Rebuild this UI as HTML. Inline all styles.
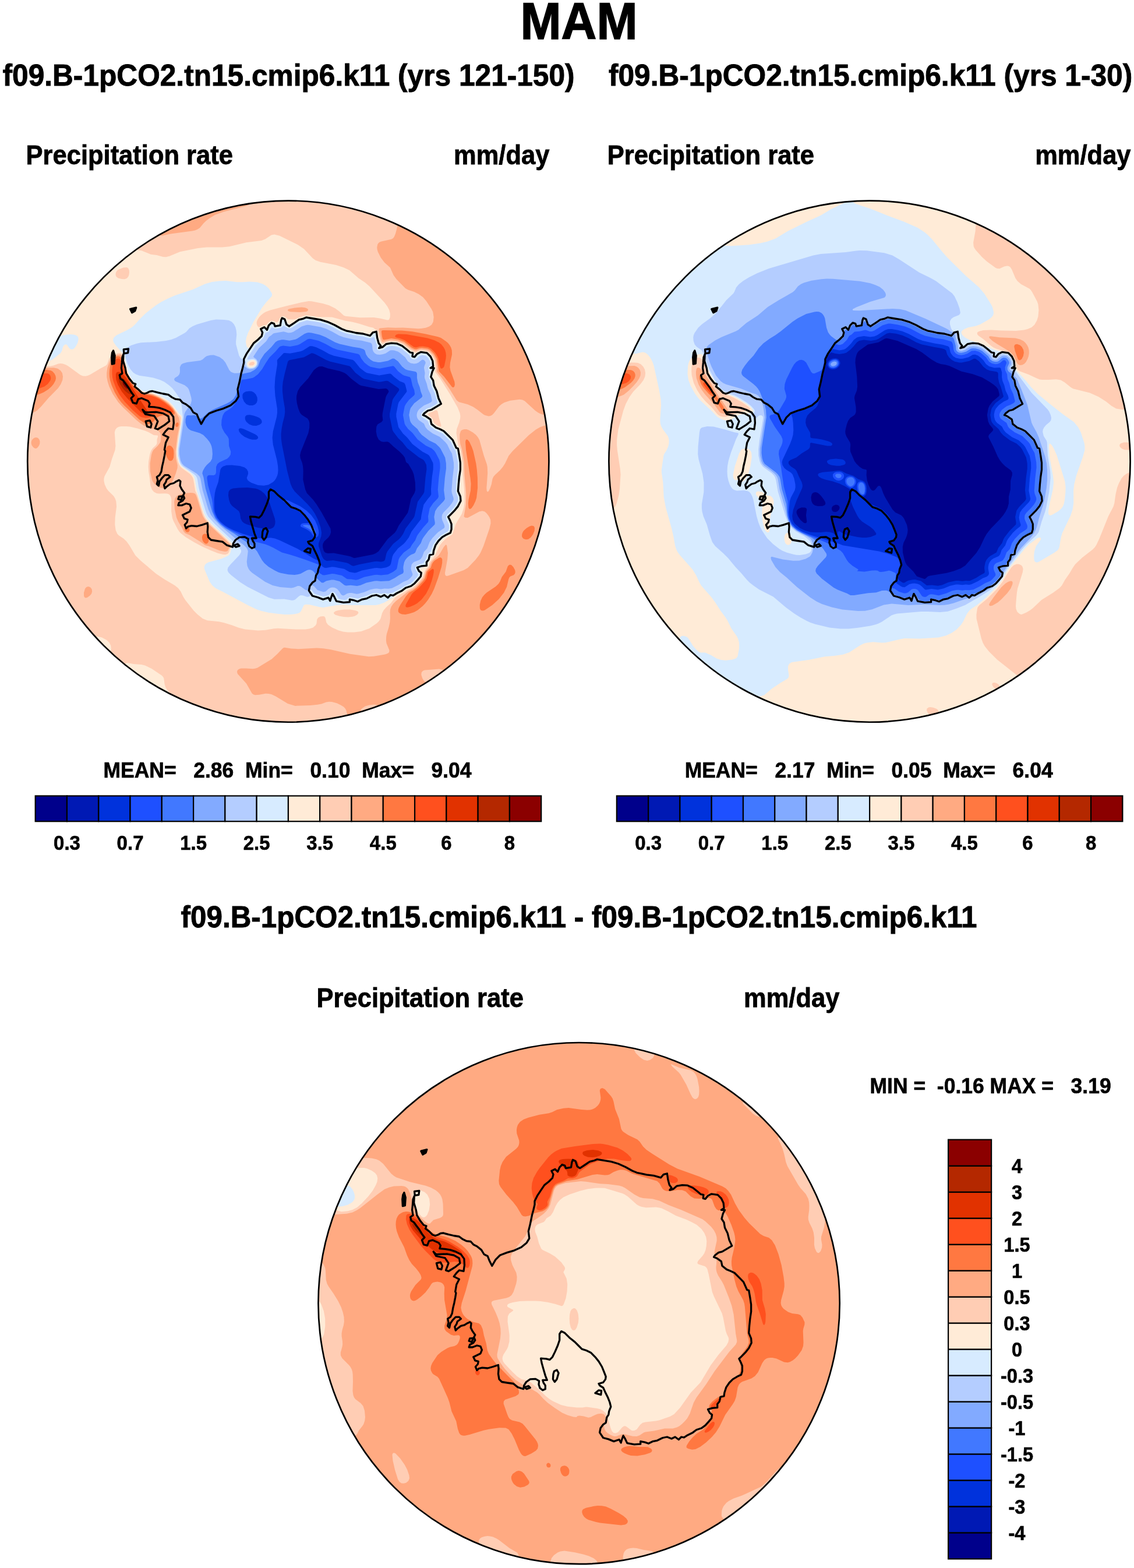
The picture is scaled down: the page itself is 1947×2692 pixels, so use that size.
<!DOCTYPE html>
<html lang="en"><head><meta charset="utf-8"><title>MAM Precipitation rate</title>
<style>html,body{margin:0;padding:0;background:#fff}svg{display:block}text{white-space:pre;font-family:"Liberation Sans",Arial,Helvetica,sans-serif;font-weight:bold;fill:#000}</style></head><body>
<svg width="1947" height="2692" viewBox="0 0 1947 2692">
<rect width="1947" height="2692" fill="#fff"/>
<text transform="translate(994.00 66.90) scale(1 1.055)" font-size="84.20" text-anchor="middle" stroke="#000" stroke-width="1.52" xml:space="preserve">MAM</text>
<text transform="translate(4.50 147.00) scale(1 1.055)" font-size="49.65" text-anchor="start" stroke="#000" stroke-width="0.89" xml:space="preserve">f09.B-1pCO2.tn15.cmip6.k11 (yrs 121-150)</text>
<text transform="translate(1944.20 147.00) scale(1 1.055)" font-size="49.65" text-anchor="end" stroke="#000" stroke-width="0.89" xml:space="preserve">f09.B-1pCO2.tn15.cmip6.k11 (yrs 1-30)</text>
<text transform="translate(44.60 281.80) scale(1 1.055)" font-size="43.50" text-anchor="start" stroke="#000" stroke-width="0.78" xml:space="preserve">Precipitation rate</text>
<text transform="translate(943.40 281.80) scale(1 1.055)" font-size="43.50" text-anchor="end" stroke="#000" stroke-width="0.78" xml:space="preserve">mm/day</text>
<text transform="translate(1042.75 281.80) scale(1 1.055)" font-size="43.50" text-anchor="start" stroke="#000" stroke-width="0.78" xml:space="preserve">Precipitation rate</text>
<text transform="translate(1941.55 281.80) scale(1 1.055)" font-size="43.50" text-anchor="end" stroke="#000" stroke-width="0.78" xml:space="preserve">mm/day</text>
<text transform="translate(994.05 1592.20) scale(1 1.055)" font-size="49.40" text-anchor="middle" stroke="#000" stroke-width="0.89" xml:space="preserve">f09.B-1pCO2.tn15.cmip6.k11 - f09.B-1pCO2.tn15.cmip6.k11</text>
<text transform="translate(543.60 1729.30) scale(1 1.055)" font-size="43.50" text-anchor="start" stroke="#000" stroke-width="0.78" xml:space="preserve">Precipitation rate</text>
<text transform="translate(1441.40 1729.30) scale(1 1.055)" font-size="43.50" text-anchor="end" stroke="#000" stroke-width="0.78" xml:space="preserve">mm/day</text>
<defs><clipPath id="clip0"><circle cx="494.85" cy="792.15" r="447.6"/></clipPath><clipPath id="clip1"><circle cx="1493.00" cy="792.15" r="447.6"/></clipPath><clipPath id="clip2"><circle cx="994.10" cy="2237.60" r="447.6"/></clipPath></defs>
<g clip-path="url(#clip0)"><circle cx="494.85" cy="792.15" r="449.6" fill="#00008b"/>
<path fill-rule="evenodd" d="M36.0,333.5 955.0,333.5 955.0,1252.5 36.0,1252.5ZM548.0,629.3 544.0,631.3 538.7,635.5 529.2,649.5 515.4,664.5 511.2,671.5 509.2,679.5 509.0,685.5 509.9,692.5 511.9,700.5 514.6,707.5 516.4,710.5 518.5,712.5 528.0,718.6 530.5,722.5 531.4,726.5 531.2,734.5 529.4,743.5 516.5,775.5 515.1,781.5 515.7,786.5 518.8,794.5 520.1,800.5 520.7,808.5 520.3,823.5 524.2,840.5 527.0,846.8 537.2,857.5 543.2,865.5 552.0,879.5 567.5,907.5 568.2,913.5 566.7,918.5 564.0,922.6 556.6,929.5 554.5,933.5 554.0,936.5 554.4,940.5 555.8,945.5 557.1,947.5 559.0,948.9 563.0,950.0 573.0,949.6 598.2,954.5 602.0,955.4 607.0,957.7 609.0,958.1 640.0,952.0 645.0,950.0 650.0,946.5 665.5,925.5 677.9,914.5 680.7,910.5 684.5,902.5 700.0,880.5 701.5,875.5 705.6,856.5 711.6,846.5 713.2,841.5 712.9,828.5 710.4,814.5 708.1,808.5 702.0,797.9 701.0,796.3 698.0,794.2 697.0,792.7 694.9,785.5 692.0,781.5 686.2,775.5 675.4,766.5 668.0,759.4 665.0,758.2 658.0,758.8 654.0,757.8 650.0,754.4 647.1,748.5 645.7,740.5 646.3,732.5 648.3,728.5 655.1,724.5 657.3,721.5 656.5,713.5 656.8,709.5 662.2,682.5 663.3,679.5 667.5,672.5 666.4,669.5 664.0,667.6 662.0,666.9 650.0,668.1 620.0,662.1 616.7,660.5 603.4,650.5 594.9,642.5 591.0,639.9 583.0,637.1 563.0,632.6 553.0,629.1Z" fill="#0019b4"/>
<path fill-rule="evenodd" d="M36.0,333.5 955.0,333.5 955.0,1252.5 36.0,1252.5ZM410.0,837.5 400.0,838.4 396.0,840.1 394.0,841.8 392.5,844.5 392.0,850.5 393.3,858.5 395.4,864.5 398.5,868.5 410.1,877.5 411.9,881.5 413.2,890.5 416.0,895.4 419.0,897.9 423.0,899.9 442.0,905.7 460.0,908.5 465.0,907.8 469.0,905.7 471.0,903.2 472.3,899.5 472.6,895.5 471.9,890.5 462.2,861.5 458.3,853.5 454.0,847.6 448.0,842.5 443.0,840.0 439.0,838.7 425.0,837.0ZM535.0,606.3 522.0,613.3 497.0,618.3 495.0,619.4 494.0,621.5 488.8,641.5 485.8,655.5 484.9,664.5 485.0,672.5 486.3,684.5 489.0,700.5 489.3,707.5 488.4,714.5 485.1,727.5 483.5,736.5 482.6,745.5 482.8,753.5 484.0,762.5 492.9,807.5 498.8,830.5 501.8,837.5 505.8,843.5 528.0,865.5 535.8,874.5 540.5,881.5 545.6,891.5 550.5,905.5 552.1,914.5 551.5,920.5 547.1,932.5 547.0,937.5 552.6,954.5 555.0,959.1 557.0,961.1 561.0,963.1 572.0,961.9 594.0,966.0 598.0,967.3 604.0,971.1 607.0,971.8 617.0,969.1 643.0,964.0 647.0,963.8 654.0,964.6 658.0,963.8 660.0,962.5 661.0,961.0 663.4,950.5 665.2,946.5 675.0,933.7 685.0,925.7 688.0,922.5 692.2,916.5 696.3,907.5 709.8,889.5 711.5,886.5 717.1,861.5 727.1,847.5 728.4,844.5 730.4,820.5 732.5,805.5 732.0,798.1 729.0,792.1 727.0,789.6 719.0,784.9 699.1,769.5 691.0,759.2 683.9,752.5 675.5,741.5 673.9,738.5 669.1,715.5 669.0,710.5 674.0,686.5 675.6,683.5 685.0,670.5 685.4,668.5 684.2,666.5 666.0,653.9 663.0,653.8 654.0,655.5 650.0,655.7 625.0,650.6 621.3,648.5 610.0,639.8 602.0,630.0 600.0,628.4 567.0,620.8 560.0,618.0 542.2,608.5 538.0,606.7Z" fill="#0032dc"/>
<path fill-rule="evenodd" d="M36.0,333.5 955.0,333.5 955.0,1252.5 36.0,1252.5ZM412.0,735.3 410.1,736.5 409.7,737.5 410.8,741.5 414.1,745.5 420.0,749.9 428.0,753.5 433.0,754.8 439.0,754.8 441.0,754.2 442.9,752.5 443.2,751.5 442.7,749.5 440.9,747.5 437.9,745.5 419.0,736.7 415.0,735.4ZM428.0,671.5 422.0,672.3 418.2,674.5 416.8,676.5 416.3,678.5 416.5,683.5 419.0,689.5 423.0,693.9 428.0,696.0 434.0,696.0 438.0,694.3 440.6,691.5 441.9,687.5 441.7,682.5 439.5,677.5 436.0,673.7 432.0,671.8ZM532.0,594.3 520.0,601.7 516.0,603.3 498.0,606.8 489.0,605.9 487.0,606.3 477.1,616.5 475.8,618.5 476.1,625.5 472.5,648.5 471.5,664.5 472.5,679.5 475.9,701.5 476.0,708.5 475.1,715.5 468.8,740.5 467.6,751.5 468.8,763.5 475.4,789.5 477.2,800.5 477.5,807.5 477.1,812.5 476.1,816.5 474.0,821.3 471.8,824.5 469.0,827.4 461.0,832.2 453.0,833.8 443.0,832.9 432.0,829.0 427.7,826.5 425.0,824.1 423.7,820.5 426.1,813.5 425.8,809.5 423.7,805.5 419.9,802.5 412.0,799.9 398.0,798.5 389.0,798.8 383.0,800.7 380.0,803.3 378.3,806.5 374.8,827.5 370.5,839.5 368.9,846.5 367.7,857.5 368.0,872.5 368.6,877.5 370.0,882.3 373.0,888.7 379.0,896.2 386.6,902.5 393.2,906.5 402.0,910.7 417.0,916.4 440.0,923.6 447.0,924.3 465.0,923.3 472.0,924.6 480.0,927.4 511.0,942.2 522.0,948.4 537.5,958.5 546.0,962.4 548.0,964.5 552.0,971.1 554.0,973.0 557.0,974.7 560.0,974.9 570.0,973.2 574.0,973.4 591.0,976.8 600.0,981.9 609.0,983.6 612.0,983.1 621.0,979.6 643.0,975.3 647.0,975.0 654.0,975.8 663.0,974.3 668.0,971.9 670.0,970.2 671.2,967.5 673.7,955.5 675.5,951.5 683.3,941.5 693.3,933.5 696.0,930.6 702.0,922.5 706.6,912.5 722.6,891.5 723.7,883.5 727.4,866.5 734.0,857.2 739.0,851.3 740.3,848.5 740.0,839.5 741.7,819.5 743.7,805.5 743.8,797.5 743.3,794.5 738.0,784.1 736.2,781.5 734.0,779.9 725.4,775.5 708.2,762.5 699.0,751.1 692.0,744.6 684.2,733.5 680.4,715.5 680.3,710.5 683.4,694.5 684.7,690.5 698.4,672.5 698.3,670.5 695.8,660.5 694.1,657.5 686.0,654.2 676.0,646.6 672.0,642.6 670.0,641.6 667.0,641.7 651.0,644.5 630.0,640.3 626.8,638.5 618.0,631.7 609.0,620.4 606.0,618.1 573.0,610.8 565.0,607.7 554.0,601.5 543.0,596.3 536.0,594.2ZM425.0,712.4 423.0,713.1 421.5,714.5 420.7,716.5 420.8,719.5 421.9,722.5 423.3,724.5 428.0,728.4 434.0,730.7 440.0,730.9 446.0,729.0 449.0,726.5 449.7,724.5 449.1,721.5 447.7,719.5 445.0,717.3 441.0,715.4 435.0,713.4 429.0,712.3ZM486.6,858.5 488.0,857.9 490.0,857.9 495.0,859.2 516.0,869.5 526.1,876.5 534.0,883.9 541.0,893.6 545.3,903.5 547.0,910.5 547.4,915.5 546.5,919.5 545.0,921.5 542.0,922.7 540.0,922.3 538.0,920.6 534.0,914.5 530.7,911.5 526.0,908.5 516.8,904.5 516.1,903.5 515.9,901.5 518.0,899.1 521.0,898.2 529.0,898.0 530.2,897.5 530.0,895.5 528.3,892.5 524.0,887.4 513.0,877.7 488.0,862.1 486.5,860.5Z" fill="#1e50ff"/>
<path fill-rule="evenodd" d="M36.0,333.5 955.0,333.5 955.0,1252.5 36.0,1252.5ZM528.0,582.4 515.0,590.8 511.0,592.5 498.0,595.0 486.0,593.5 481.0,594.7 479.0,596.4 473.0,603.6 462.8,613.5 456.1,623.5 450.2,633.5 443.0,642.4 437.0,647.0 434.0,648.7 422.0,651.2 416.0,651.8 414.0,654.1 413.0,657.5 409.9,677.5 406.5,687.5 402.3,694.5 399.0,698.5 394.2,702.5 387.3,706.5 385.0,708.8 382.4,713.5 380.5,721.5 380.1,729.5 381.6,735.5 385.4,742.5 391.0,749.5 392.8,753.5 393.1,765.5 396.3,775.5 395.8,780.5 393.3,784.5 390.1,787.5 377.0,793.4 373.3,796.5 371.1,801.5 370.9,811.5 369.8,814.5 367.0,816.0 359.0,815.7 357.0,816.5 355.6,818.5 355.5,821.5 357.3,833.5 364.0,857.6 365.0,863.8 365.7,874.5 367.2,880.5 370.7,888.5 375.9,895.5 382.0,901.3 391.0,907.5 402.0,913.2 438.0,929.9 455.0,934.2 461.0,936.4 469.0,940.2 484.0,948.6 497.0,952.0 509.0,955.8 526.0,961.5 545.0,968.6 546.3,969.5 547.3,971.5 546.6,978.5 547.2,981.5 549.0,983.9 554.0,987.2 557.0,987.4 570.0,985.0 574.0,985.2 587.0,988.0 595.0,993.5 597.0,994.3 603.0,994.4 611.0,995.7 615.0,995.0 625.0,990.7 643.0,987.1 647.0,986.8 654.0,987.6 666.0,986.3 675.0,981.8 680.6,977.5 681.5,975.5 684.5,960.5 686.5,956.5 693.0,948.7 704.3,940.5 707.1,935.5 713.0,927.5 715.8,920.5 717.6,917.5 726.7,905.5 735.0,896.2 735.5,893.5 735.0,886.5 737.8,872.5 744.0,863.6 751.7,855.5 753.0,852.5 751.7,840.5 753.4,820.5 755.6,803.5 755.5,795.5 754.3,789.5 748.0,777.2 745.3,773.5 741.0,769.8 731.0,765.0 717.0,754.4 708.0,743.1 700.7,736.5 696.2,730.5 694.7,727.5 691.9,712.5 694.8,697.5 696.9,693.5 702.2,686.5 711.0,678.7 712.2,676.5 711.2,669.5 708.3,662.5 705.6,650.5 704.0,647.6 694.0,644.7 691.0,643.2 683.6,637.5 677.0,629.5 675.0,628.3 652.0,632.7 648.0,632.3 636.0,629.8 632.0,627.6 625.6,622.5 620.2,615.5 617.4,609.5 615.0,607.8 579.0,600.3 571.0,597.2 558.9,590.5 547.0,585.0 534.0,581.9 531.0,581.7ZM520.7,901.5 527.0,901.0 533.0,902.2 536.0,903.5 539.0,906.5 541.2,910.5 542.4,914.5 542.0,918.0 541.0,918.5 540.0,918.0 536.7,913.5 533.0,909.8 529.0,907.0 521.6,903.5 520.2,902.5Z" fill="#4178ff"/>
<path fill-rule="evenodd" d="M36.0,333.5 955.0,333.5 955.0,1252.5 36.0,1252.5ZM527.0,571.4 523.0,573.0 510.0,581.5 507.0,582.8 497.0,584.7 487.0,583.2 484.0,583.2 477.0,584.7 473.0,587.2 466.0,595.7 454.0,607.5 446.8,618.5 443.4,628.5 440.0,632.6 437.0,635.0 430.0,638.9 418.0,641.4 416.0,642.3 414.0,644.2 411.4,650.5 407.0,671.6 405.0,678.5 401.1,684.5 396.0,688.9 389.9,692.5 365.0,703.5 355.8,709.5 348.0,717.0 346.0,718.2 344.0,718.5 342.0,718.0 337.0,714.0 334.0,712.8 328.0,713.2 323.0,712.9 321.0,713.5 320.0,714.5 318.6,719.5 318.5,725.5 319.8,730.5 322.1,734.5 325.0,737.3 328.0,739.0 343.0,743.5 349.0,746.8 355.6,753.5 359.6,758.5 361.8,762.5 363.3,766.5 364.3,771.5 364.9,779.5 364.1,787.5 361.3,792.5 355.0,798.3 351.6,802.5 348.3,808.5 347.3,812.5 349.5,819.5 352.8,838.5 364.3,878.5 369.3,889.5 373.1,894.5 379.0,900.6 387.0,906.9 402.8,916.5 414.0,924.7 427.0,933.0 434.0,938.2 441.3,946.5 449.7,961.5 454.0,967.0 461.0,973.0 471.0,979.0 478.0,982.5 482.0,983.8 495.0,986.2 506.0,986.9 512.0,986.1 516.0,984.9 527.0,978.9 530.0,978.2 533.0,978.3 536.2,979.5 539.6,982.5 541.4,985.5 543.6,992.5 552.0,1000.3 555.0,1000.6 560.0,997.6 563.0,996.7 569.2,995.5 573.0,995.5 583.0,997.9 591.2,1004.5 594.0,1005.5 602.0,1004.8 613.0,1006.1 619.0,1004.8 629.0,1000.4 643.0,997.5 647.0,997.3 654.0,998.0 668.0,997.2 678.0,992.3 685.0,987.8 692.0,984.3 693.0,981.5 692.3,975.5 692.5,972.5 694.0,965.3 695.8,961.5 699.0,957.5 702.5,954.5 706.0,952.2 711.0,950.2 713.0,948.6 716.0,941.2 722.6,932.5 725.0,925.9 727.0,922.4 735.3,911.5 746.4,900.5 746.8,897.5 745.3,887.5 747.2,877.5 751.0,871.6 762.0,860.1 764.0,856.5 762.1,841.5 763.8,820.5 766.0,804.5 765.9,795.5 764.2,785.5 756.5,770.5 754.2,767.5 747.9,761.5 737.0,756.3 724.0,746.6 720.0,741.8 716.7,736.5 708.0,728.9 705.5,725.5 704.1,722.5 702.3,712.5 703.7,704.5 705.0,700.5 711.0,692.4 723.9,682.5 725.2,680.5 724.9,678.5 722.5,672.5 720.6,664.5 717.4,656.5 715.9,648.5 716.0,641.5 715.0,639.0 713.0,638.0 700.0,635.6 696.0,633.9 690.5,629.5 683.5,620.5 677.0,615.7 674.0,615.4 666.0,619.4 653.0,622.1 649.0,622.1 641.0,620.4 636.0,617.6 631.7,613.5 628.4,608.5 626.4,601.5 624.0,599.4 618.0,597.6 605.3,595.5 583.0,590.6 575.0,587.4 559.0,578.7 549.0,574.7 535.0,571.6 530.0,571.0Z" fill="#82aaff"/>
<path fill-rule="evenodd" d="M36.0,333.5 955.0,333.5 955.0,1252.5 36.0,1252.5ZM525.0,558.3 517.9,560.5 504.0,569.5 500.0,571.1 495.0,571.4 487.0,569.3 471.0,571.9 469.0,572.8 466.0,575.6 461.7,578.5 457.0,585.9 444.7,597.5 435.5,611.5 435.2,612.5 435.7,613.5 440.0,616.6 442.5,620.5 442.4,625.5 440.1,629.5 438.0,631.4 435.0,632.9 429.0,633.8 425.0,632.7 420.0,628.9 419.0,628.9 417.0,631.2 413.5,638.5 411.0,640.5 403.0,640.7 400.0,640.1 396.6,638.5 393.7,635.5 387.1,622.5 383.1,617.5 377.0,613.0 367.0,609.6 361.0,609.7 355.0,611.3 352.0,613.2 348.0,616.9 344.0,618.9 321.0,622.1 314.0,624.0 311.0,626.1 308.9,630.5 309.0,638.5 308.0,642.5 305.6,645.5 300.0,649.1 299.0,651.6 300.0,653.5 302.0,655.0 317.0,661.2 322.0,665.2 324.0,668.3 325.2,671.5 328.3,682.5 329.0,687.5 327.5,693.5 318.0,707.2 316.4,711.5 314.5,728.5 308.0,771.1 308.0,779.5 310.0,790.4 312.3,795.5 316.0,799.5 338.0,813.2 342.3,817.5 344.2,821.5 347.9,841.5 357.7,874.5 362.0,884.1 368.6,892.5 378.0,902.3 409.0,928.6 419.0,936.2 423.0,940.3 425.0,943.5 425.8,946.5 423.7,964.5 424.6,971.5 426.7,976.5 429.0,979.7 433.0,983.5 455.0,998.7 468.0,1005.1 481.0,1007.9 500.0,1009.4 504.0,1008.7 511.0,1006.0 514.0,1006.0 517.0,1007.3 524.0,1012.4 527.0,1013.6 529.0,1012.5 531.1,1008.5 533.0,1006.3 535.0,1005.2 537.0,1005.1 539.2,1006.5 545.0,1013.0 555.0,1016.2 559.0,1015.4 564.0,1010.9 567.0,1009.2 570.0,1008.6 574.0,1008.8 577.0,1009.9 579.2,1011.5 581.8,1014.5 586.0,1021.1 589.0,1022.4 591.0,1022.0 596.0,1018.9 600.0,1018.0 604.0,1018.1 612.0,1019.7 615.0,1019.6 625.7,1016.5 635.0,1012.4 643.0,1010.7 647.0,1010.4 654.0,1011.4 660.0,1010.5 667.0,1010.8 673.0,1009.7 684.0,1004.3 692.0,999.2 700.8,995.5 704.0,992.8 707.8,988.5 708.5,985.5 706.2,979.5 705.5,975.5 706.6,969.5 708.8,966.5 711.0,964.8 720.0,961.3 722.5,959.5 725.1,955.5 727.9,947.5 733.4,941.5 737.7,930.5 742.6,923.5 752.0,913.7 762.7,906.5 763.4,904.5 763.0,901.5 759.5,893.5 758.7,890.5 758.5,887.5 759.2,883.5 761.7,879.5 771.0,870.0 775.0,865.1 777.8,860.5 778.8,857.5 778.5,854.5 775.8,846.5 775.3,842.5 776.9,821.5 779.2,802.5 779.0,794.5 775.9,778.5 772.3,772.5 768.0,763.2 765.0,759.5 755.0,749.9 743.0,744.3 733.8,737.5 730.6,733.5 728.0,727.4 719.0,721.2 716.9,718.5 715.8,715.5 715.5,712.5 716.2,708.5 717.5,705.5 720.0,702.2 728.0,695.9 736.4,692.5 740.0,690.5 741.1,689.5 741.8,687.5 739.5,677.5 734.8,667.5 732.6,658.5 729.2,649.5 728.9,646.5 729.6,640.5 728.0,631.5 728.6,628.5 730.6,623.5 730.5,621.5 728.5,618.5 726.0,617.5 724.0,618.0 718.5,622.5 715.0,624.1 711.0,624.5 705.0,623.4 700.3,620.5 695.7,613.5 686.3,605.5 683.0,603.5 676.7,601.5 673.0,601.2 670.0,601.6 662.0,606.7 657.0,608.2 652.0,609.1 647.0,608.4 643.4,606.5 640.9,603.5 639.6,599.5 639.0,592.5 638.0,590.1 636.1,588.5 621.0,584.8 608.0,582.9 590.0,578.9 582.0,575.9 570.5,569.5 560.1,564.5 550.7,561.5 531.0,557.9 528.0,557.7Z" fill="#b4cdff"/>
<path fill-rule="evenodd" d="M36.0,333.5 955.0,333.5 955.0,1252.5 36.0,1252.5ZM371.0,548.5 362.0,549.9 338.0,557.1 331.0,559.9 325.2,563.5 320.0,569.4 317.0,571.8 302.0,579.9 294.0,583.0 285.0,585.0 268.0,587.0 242.0,588.2 235.0,589.8 225.0,593.1 221.0,595.2 217.7,598.5 215.3,602.5 214.5,606.5 216.0,614.9 219.0,624.5 223.6,633.5 228.6,639.5 233.2,642.5 239.0,644.8 263.0,648.4 275.0,652.2 282.0,655.5 290.0,661.3 295.9,666.5 301.3,673.5 309.6,685.5 311.4,692.5 314.1,716.5 306.0,771.6 306.3,782.5 309.0,793.5 311.0,797.2 314.0,800.5 332.5,813.5 335.9,816.5 337.8,819.5 339.0,823.5 341.0,836.1 342.8,843.5 353.0,877.5 355.0,882.6 357.8,887.5 369.7,900.5 396.5,925.5 412.0,941.6 413.9,944.5 414.1,946.5 413.7,948.5 411.0,953.0 395.4,969.5 391.4,974.5 390.5,978.5 391.5,981.5 392.8,983.5 397.0,987.6 412.3,999.5 425.0,1007.6 461.0,1025.7 471.0,1028.8 488.0,1028.4 501.0,1030.7 504.0,1030.4 507.0,1029.2 513.4,1023.5 516.0,1022.1 520.0,1022.2 527.0,1024.8 529.0,1024.7 531.0,1024.0 532.6,1022.5 533.2,1020.5 532.0,1016.5 532.0,1014.5 533.0,1012.8 534.0,1012.5 535.4,1013.5 539.0,1018.1 540.9,1019.5 554.0,1023.8 557.0,1023.7 564.0,1021.7 565.7,1020.5 569.0,1016.6 571.0,1015.9 573.0,1016.3 575.6,1018.5 581.2,1027.5 585.0,1029.1 592.0,1030.0 595.0,1029.3 598.0,1026.5 601.0,1025.2 615.0,1027.6 622.0,1024.9 629.0,1023.1 638.0,1019.1 643.0,1017.9 647.0,1017.7 654.0,1019.2 661.0,1017.9 666.0,1019.1 674.0,1017.4 687.8,1010.5 695.0,1005.9 705.0,1001.5 709.0,998.1 715.0,991.6 717.8,987.5 717.7,985.5 713.2,977.5 712.8,974.5 713.6,972.5 717.0,970.0 727.3,966.5 731.8,958.5 734.1,951.5 739.7,946.5 743.4,935.5 747.9,928.5 756.5,919.5 768.0,912.6 769.9,910.5 770.9,906.5 770.7,901.5 766.1,890.5 766.0,886.5 767.8,883.5 776.0,875.3 781.5,868.5 785.4,861.5 786.4,857.5 786.0,853.5 783.0,845.5 782.5,842.5 784.1,821.5 786.2,806.5 786.3,799.5 785.9,792.5 782.4,774.5 779.0,769.5 774.0,758.9 770.0,754.2 760.0,744.4 747.0,738.2 739.2,732.5 736.8,729.5 735.2,724.5 734.0,722.5 725.0,716.5 723.0,713.5 723.0,711.5 723.7,709.5 728.0,704.8 732.9,701.5 740.0,698.9 746.2,695.5 749.2,693.5 750.7,691.5 750.6,689.5 746.2,674.5 741.4,664.5 739.3,655.5 736.4,648.5 736.2,645.5 737.3,638.5 735.6,633.5 735.5,631.5 738.4,626.5 738.8,623.5 737.9,619.5 735.0,614.5 731.0,610.9 725.0,609.8 722.0,610.4 720.0,611.5 715.0,615.9 713.0,617.0 711.0,617.3 708.0,616.7 705.0,614.5 702.5,609.5 690.0,599.1 685.0,596.5 678.0,594.4 673.0,594.0 668.0,594.6 665.0,595.7 658.0,600.4 653.0,601.7 650.0,601.6 648.0,600.5 647.0,598.6 647.0,592.5 643.0,580.4 642.0,578.9 641.0,578.7 637.0,580.5 634.0,580.7 623.0,577.8 609.0,575.8 595.0,572.8 585.0,569.2 570.9,561.5 560.0,556.7 547.0,553.2 527.0,550.3 515.0,553.8 501.0,562.8 498.0,564.0 494.0,563.6 487.0,559.1 482.7,562.5 477.0,564.0 472.0,564.3 468.0,562.3 466.0,562.4 461.5,569.5 455.9,571.5 452.0,580.5 439.0,592.9 426.3,612.5 424.8,615.5 424.7,617.5 432.0,616.4 436.0,616.6 438.0,617.4 440.0,619.1 441.4,622.5 440.6,626.5 439.2,628.5 437.0,630.4 433.0,632.0 428.0,632.0 425.1,630.5 423.4,628.5 422.3,625.5 422.0,620.4 419.0,619.1 413.0,614.8 410.4,610.5 405.3,591.5 405.1,586.5 406.3,574.5 405.7,567.5 404.2,561.5 401.6,556.5 397.9,552.5 393.0,550.0 385.0,549.0Z" fill="#d7ebff"/>
<path fill-rule="evenodd" d="M36.0,333.5 955.0,333.5 955.0,1252.5 36.0,1252.5ZM114.0,574.4 105.0,576.2 95.0,579.5 87.0,583.8 79.7,589.5 75.0,594.5 72.0,598.6 66.9,608.5 65.3,615.5 65.9,618.5 67.0,620.1 70.0,621.6 76.0,621.6 83.0,620.3 90.0,617.5 104.0,606.3 106.2,602.5 108.1,595.5 110.0,592.7 112.0,591.3 114.0,591.4 115.0,592.1 118.6,597.5 121.0,599.5 124.0,600.1 127.1,598.5 130.3,594.5 133.4,588.5 134.8,582.5 134.1,578.5 131.0,575.7 127.0,574.4 121.0,573.9ZM376.0,482.5 364.0,484.0 352.0,487.5 331.0,497.1 301.0,506.9 289.0,512.2 277.0,518.2 268.0,524.0 250.5,537.5 241.0,546.8 231.4,557.5 227.0,561.4 218.8,566.5 200.0,575.6 195.5,579.5 194.0,583.5 195.0,587.5 199.0,593.3 211.6,607.5 213.3,612.5 218.0,631.8 222.0,643.2 227.0,653.2 234.0,662.7 240.1,668.5 245.0,671.3 249.0,672.3 260.0,673.7 264.0,674.8 274.0,679.0 287.0,686.7 291.0,689.8 297.4,696.5 307.0,709.4 311.0,713.1 312.0,714.8 312.3,719.5 306.0,760.4 304.5,773.5 305.0,783.5 307.4,793.5 309.4,797.5 312.0,800.7 326.9,811.5 331.1,815.5 333.2,818.5 334.6,822.5 338.1,842.5 350.0,879.9 354.0,888.3 358.0,893.6 364.0,900.1 396.3,930.5 398.7,933.5 399.4,935.5 399.4,937.5 397.0,942.5 395.3,949.5 394.0,951.8 392.0,953.7 381.0,958.9 358.0,965.3 354.0,967.5 352.0,969.6 350.6,973.5 351.1,977.5 359.9,998.5 364.0,1004.5 370.0,1009.7 383.0,1016.2 427.0,1039.8 441.3,1046.5 448.0,1048.7 461.0,1051.7 476.0,1053.8 489.0,1054.9 498.0,1055.0 504.0,1054.6 512.0,1053.0 514.8,1051.5 516.7,1049.5 521.5,1039.5 523.0,1038.3 525.0,1037.7 531.0,1037.9 549.0,1042.3 555.0,1043.0 576.0,1039.3 588.0,1038.3 605.0,1039.0 645.0,1038.9 651.0,1037.7 659.8,1034.5 670.0,1028.5 680.0,1020.8 691.7,1014.5 698.0,1010.5 707.1,1006.5 714.1,1000.5 722.9,990.5 724.0,987.8 724.4,984.5 723.9,982.5 720.7,978.5 720.4,977.5 721.0,975.8 724.0,974.3 731.0,972.7 732.8,971.5 734.7,965.5 739.0,956.5 740.0,955.0 744.0,951.7 745.0,950.1 749.1,937.5 752.9,931.5 761.0,923.6 766.0,920.1 772.8,916.5 774.6,914.5 777.1,907.5 777.6,901.5 776.2,897.5 771.8,890.5 771.5,887.5 774.0,884.0 780.0,879.7 786.8,871.5 792.2,860.5 792.6,854.5 789.2,844.5 788.6,838.5 791.8,809.5 791.5,793.5 787.2,770.5 784.2,766.5 779.4,756.5 774.1,749.5 770.0,745.8 767.0,742.1 763.0,738.9 750.0,733.7 745.0,730.3 741.6,726.5 740.2,721.5 739.1,719.5 732.0,714.3 730.1,711.5 730.8,709.5 734.0,707.0 743.0,703.5 752.7,698.5 757.0,695.6 758.3,693.5 758.0,690.5 755.0,683.2 751.7,671.5 747.6,663.5 745.5,654.5 742.6,647.5 742.5,644.5 743.5,638.5 745.4,632.5 744.1,621.5 743.0,617.5 740.0,612.5 735.0,606.7 733.3,605.5 726.0,604.4 722.0,604.6 717.6,606.5 713.0,609.8 711.0,609.8 709.0,606.4 703.0,603.2 691.0,593.5 682.0,589.7 675.0,588.9 669.0,589.2 664.0,590.3 659.0,593.2 657.0,593.7 655.0,593.2 652.5,590.5 650.4,586.5 647.0,571.6 645.0,569.6 641.0,569.8 636.0,573.9 634.0,574.4 624.0,571.9 599.0,567.5 587.2,563.5 571.0,554.9 562.0,551.0 551.0,548.0 528.0,544.7 525.0,544.9 513.3,548.5 498.0,557.3 496.0,557.3 494.7,556.5 489.9,548.5 488.0,547.0 486.0,546.4 484.0,547.0 483.0,548.1 479.9,555.5 477.0,557.8 474.0,557.7 468.0,554.1 465.0,554.2 462.3,556.5 459.8,560.5 458.0,562.0 452.0,562.2 448.1,564.5 447.1,566.5 448.5,573.5 447.0,578.1 435.4,588.5 429.6,596.5 428.0,597.6 426.0,597.5 424.0,595.7 423.1,593.5 422.0,586.5 423.0,579.7 425.9,571.5 434.8,553.5 449.7,528.5 456.6,519.5 466.7,508.5 467.2,505.5 466.2,502.5 461.7,495.5 456.4,490.5 451.0,487.6 442.0,484.6 428.0,483.4 418.0,484.3 407.0,484.3 388.0,482.1ZM430.8,618.5 434.0,618.0 437.0,618.6 439.2,620.5 440.0,623.7 439.0,626.6 436.0,629.5 433.0,630.6 429.0,630.7 427.0,630.0 425.4,628.5 424.4,626.5 424.3,624.5 424.8,622.5 426.0,620.9Z" fill="#ffebd7"/>
<path fill-rule="evenodd" d="M36.0,333.5 955.0,333.5 955.0,1252.5 36.0,1252.5ZM466.0,403.4 455.4,410.5 449.0,412.9 423.0,416.2 394.0,423.2 381.0,424.4 355.0,424.5 340.0,425.9 309.0,432.3 291.0,439.7 285.0,441.2 280.0,441.0 269.0,438.0 259.0,436.7 243.0,430.3 218.0,426.8 167.0,424.1 142.0,427.8 136.0,429.3 112.0,439.1 91.0,453.4 85.0,458.2 63.9,479.5 49.3,503.5 42.2,527.5 41.4,534.5 41.4,556.5 42.0,561.5 48.8,588.5 55.9,610.5 62.3,624.5 64.0,627.0 65.9,628.5 70.0,629.3 86.0,628.8 92.0,627.6 100.0,624.5 104.0,624.1 108.0,624.4 113.0,626.2 117.0,628.4 138.0,643.7 142.3,645.5 147.0,645.7 151.0,644.7 155.0,642.9 173.0,632.2 182.0,627.6 184.0,625.3 187.6,615.5 189.9,612.5 193.0,609.9 202.0,606.6 205.0,606.1 208.0,606.7 210.0,608.3 211.5,611.5 216.9,633.5 221.0,644.7 226.0,654.5 234.0,664.9 238.9,669.5 243.8,672.5 247.0,673.6 258.0,674.9 263.0,676.2 274.0,680.8 286.0,688.2 290.0,691.3 296.1,697.5 306.0,711.5 309.9,715.5 310.6,718.5 310.0,728.5 305.4,755.5 303.1,774.5 303.5,783.5 305.8,793.5 308.0,798.5 310.1,801.5 313.0,804.2 326.0,813.5 329.0,816.7 331.0,820.0 332.1,823.5 335.3,842.5 339.0,850.5 348.6,881.5 351.9,888.5 356.3,894.5 361.7,900.5 391.0,927.9 397.0,934.5 397.2,937.5 395.0,942.1 393.0,948.3 391.0,950.8 387.0,952.3 383.0,952.1 374.0,949.7 362.0,944.9 347.0,938.3 333.0,930.8 319.0,922.3 311.0,916.1 308.0,913.1 305.0,908.5 297.8,894.5 295.9,889.5 294.1,877.5 294.3,857.5 293.5,853.5 292.1,850.5 290.0,848.5 287.0,847.6 283.0,847.2 273.0,847.5 269.0,847.0 264.2,844.5 260.9,840.5 258.3,833.5 257.0,820.5 255.3,810.5 254.6,801.5 255.2,791.5 257.4,779.5 259.5,773.5 262.2,769.5 267.6,764.5 269.0,762.5 269.5,760.5 269.5,754.5 271.1,749.5 271.1,748.5 270.4,747.5 264.0,747.0 255.0,741.9 249.0,739.4 236.0,735.4 223.0,732.6 217.0,732.0 208.0,732.0 204.0,732.7 200.6,734.5 198.0,737.7 196.8,742.5 198.4,765.5 197.6,772.5 192.0,788.5 188.3,801.5 179.5,817.5 178.5,821.5 178.4,825.5 179.7,831.5 182.9,838.5 186.0,842.7 195.0,851.5 197.5,855.5 199.3,860.5 200.1,869.5 197.7,888.5 197.3,900.5 198.7,910.5 201.4,916.5 204.0,919.3 212.0,924.6 217.3,929.5 222.3,936.5 232.4,953.5 242.0,962.9 268.0,985.1 283.0,995.1 300.0,1004.9 305.7,1009.5 310.3,1015.5 314.6,1024.5 318.4,1030.5 332.7,1048.5 339.0,1054.8 348.0,1062.0 356.0,1065.2 376.0,1067.3 384.0,1068.9 398.0,1073.2 410.0,1077.7 421.0,1080.5 443.0,1082.5 456.0,1081.8 470.0,1079.3 477.0,1078.7 508.0,1080.5 524.0,1080.5 531.0,1079.6 537.4,1077.5 542.0,1073.6 543.5,1070.5 544.3,1063.5 546.3,1060.5 550.0,1058.4 555.0,1057.9 557.0,1058.6 558.5,1060.5 560.3,1068.5 563.0,1072.5 570.0,1077.3 581.0,1082.3 589.0,1084.5 597.0,1085.5 608.0,1085.5 620.0,1083.9 634.0,1079.0 647.0,1070.1 650.6,1066.5 653.3,1062.5 656.2,1052.5 658.8,1047.5 664.0,1041.8 671.0,1035.5 677.9,1026.5 681.9,1023.5 692.0,1017.9 699.0,1013.4 709.0,1008.4 715.0,1003.2 723.0,994.4 725.7,990.5 729.7,979.5 735.0,973.3 738.5,964.5 747.5,952.5 753.0,940.4 755.7,935.5 759.7,930.5 764.7,925.5 770.0,921.5 775.0,918.8 777.1,916.5 782.6,899.5 793.0,882.0 796.0,872.5 797.2,865.5 797.7,857.5 797.1,841.5 794.9,816.5 794.2,794.5 790.6,772.5 786.7,762.5 783.5,743.5 784.2,736.5 788.4,725.5 790.1,718.5 790.4,714.5 789.7,709.5 785.7,699.5 773.0,677.4 756.1,650.5 747.8,639.5 747.2,637.5 748.0,631.5 746.1,618.5 742.6,611.5 737.2,605.5 735.0,603.7 733.0,602.9 724.0,601.7 721.0,602.1 715.0,604.8 713.0,605.2 704.0,600.5 692.0,590.9 685.0,588.0 681.0,586.9 674.0,586.1 670.0,586.3 663.5,587.5 658.0,590.2 656.0,589.9 654.0,587.8 652.5,584.5 649.0,568.9 647.8,567.5 644.1,565.5 641.0,562.7 634.0,561.3 616.0,555.6 605.0,552.8 592.0,550.5 570.0,544.4 547.0,544.3 527.0,541.5 524.0,541.8 514.0,545.0 507.0,547.9 503.0,548.5 495.0,548.2 489.0,543.8 486.0,542.9 484.0,543.0 481.0,545.2 478.0,551.4 476.0,553.1 474.0,553.1 468.0,550.8 465.0,551.0 462.0,552.8 457.0,558.0 452.0,558.7 445.0,561.8 443.0,560.9 441.6,558.5 440.7,555.5 440.8,552.5 442.0,549.2 445.0,544.5 448.0,541.3 452.0,537.9 456.0,535.5 464.0,532.5 493.0,525.1 517.0,519.3 530.0,517.1 535.0,517.3 554.0,520.9 565.0,524.3 575.7,529.5 583.0,534.9 590.0,541.5 593.0,542.7 618.0,545.3 642.0,545.1 652.0,546.5 665.0,549.6 667.0,549.3 668.1,548.5 669.7,544.5 669.8,538.5 668.4,532.5 665.0,526.0 660.2,519.5 634.3,491.5 627.0,485.3 615.5,477.5 600.0,464.0 590.0,459.2 577.0,454.9 550.0,449.8 542.0,446.9 537.0,443.5 522.0,427.5 511.9,420.5 480.0,404.7 471.0,402.6ZM163.0,1093.4 158.5,1095.5 156.6,1098.5 157.0,1101.8 159.8,1106.5 169.7,1117.5 176.9,1123.5 182.0,1125.6 184.5,1125.5 186.6,1124.5 189.5,1120.5 190.9,1114.5 190.2,1108.5 187.9,1103.5 183.0,1098.7 175.0,1094.5 168.0,1092.8ZM217.0,1138.2 214.2,1140.5 213.1,1144.5 213.1,1150.5 215.0,1155.5 217.5,1159.5 223.0,1165.4 236.7,1177.5 250.0,1186.7 260.0,1192.7 265.2,1195.5 273.0,1198.5 279.0,1199.4 283.0,1199.0 288.0,1196.6 291.0,1194.0 292.0,1191.5 291.5,1189.5 286.5,1183.5 284.1,1179.5 282.6,1174.5 281.3,1164.5 279.6,1161.5 277.5,1159.5 260.0,1147.8 249.0,1142.5 243.0,1141.1 229.0,1140.0 219.0,1138.1ZM211.6,459.5 217.0,458.9 219.0,459.6 220.8,461.5 221.8,464.5 222.0,467.5 221.5,471.5 220.5,474.5 218.0,477.7 214.0,479.3 209.0,479.1 203.0,477.6 200.1,475.5 198.9,473.5 198.5,470.5 199.1,467.5 201.0,464.6 203.0,462.9ZM431.6,621.5 434.0,621.1 436.0,621.5 437.0,622.8 436.9,624.5 435.3,626.5 433.6,627.5 429.0,627.6 427.8,626.5 427.7,624.5 429.0,622.8ZM747.9,704.5 750.3,704.5 751.5,706.5 754.0,718.5 757.4,729.5 757.5,731.5 757.0,732.1 756.0,732.4 752.8,731.5 746.0,727.0 744.3,724.5 742.3,718.5 740.6,716.5 736.0,713.1 735.0,711.5 736.4,709.5ZM590.6,1046.5 601.0,1046.6 610.0,1048.1 614.0,1049.6 615.0,1050.5 615.4,1052.5 613.0,1055.5 609.0,1057.8 605.0,1058.8 598.0,1059.5 590.0,1059.0 583.0,1057.8 576.0,1055.7 573.2,1053.5 573.1,1051.5 576.0,1049.2 581.0,1047.7Z" fill="#ffcdb4"/>
<path fill-rule="evenodd" d="M404.0,334.5 406.9,333.5 415.8,333.5 426.0,335.4 430.0,337.0 432.0,338.5 432.9,341.5 432.4,344.5 431.0,347.4 429.0,349.7 426.0,351.9 422.0,353.7 384.0,363.4 369.0,369.1 360.1,374.5 354.0,379.1 349.4,383.5 343.0,391.2 339.0,393.8 334.9,395.5 330.0,396.6 293.0,401.4 278.0,404.7 275.0,404.1 272.6,402.5 270.0,399.3 267.1,394.5 266.4,390.5 267.4,385.5 270.7,379.5 276.6,372.5 289.0,361.9 304.0,354.3 326.0,347.0 350.0,342.0ZM738.7,334.5 740.1,333.5 883.6,333.5 886.0,335.7 923.0,352.3 926.7,354.5 952.0,387.5 955.0,389.8 955.0,712.5 935.0,712.4 931.0,711.6 927.0,710.1 924.0,708.6 919.0,705.0 901.0,688.6 897.0,686.5 892.0,685.7 876.0,687.8 866.0,691.1 861.0,694.0 857.0,697.5 847.9,709.5 845.0,712.4 842.0,713.9 839.0,714.4 833.0,713.1 830.0,711.5 819.8,703.5 812.4,698.5 803.0,694.2 788.0,690.2 784.0,687.3 772.3,668.5 758.3,648.5 750.4,638.5 749.9,636.5 750.3,631.5 747.7,616.5 744.0,609.5 737.0,602.4 733.0,600.7 724.0,599.4 721.0,599.8 715.0,602.1 712.0,601.8 706.0,599.1 693.0,588.9 682.0,584.9 671.0,583.9 664.0,585.0 658.0,587.0 657.0,586.9 655.5,585.5 654.0,581.5 650.6,565.5 650.7,564.5 652.0,563.6 666.0,562.3 679.0,562.8 692.0,562.4 718.0,564.2 723.0,563.9 731.0,562.7 737.0,560.6 741.1,557.5 743.8,552.5 744.7,544.5 743.3,535.5 740.8,530.5 732.0,516.9 726.0,510.1 719.0,505.0 711.0,501.0 701.0,497.7 696.0,495.0 680.8,479.5 675.7,472.5 669.9,459.5 660.0,450.5 653.9,442.5 648.9,432.5 647.7,428.5 647.3,424.5 648.3,419.5 650.0,417.1 652.0,415.6 655.0,414.5 672.0,410.8 675.0,408.9 676.8,406.5 679.0,401.2 681.1,393.5 688.7,354.5 689.4,352.5 690.9,350.5 710.0,340.5ZM505.9,528.5 518.0,527.6 524.0,528.2 528.0,529.9 529.0,531.5 529.0,532.5 528.0,534.0 526.0,534.9 515.0,536.1 499.0,535.2 495.9,534.5 494.3,533.5 494.0,532.7 494.4,531.5 496.0,530.5ZM200.2,609.5 206.0,608.6 208.0,609.2 209.0,610.3 211.0,615.2 216.1,634.5 220.0,645.1 226.0,656.4 230.5,662.5 235.0,667.5 239.0,670.9 244.0,673.8 247.0,674.7 259.0,676.3 263.0,677.5 273.0,681.7 284.2,688.5 290.0,693.0 297.2,700.5 300.6,705.5 307.0,716.9 308.5,724.5 308.7,728.5 304.6,748.5 301.3,775.5 302.1,787.5 304.8,798.5 304.6,803.5 301.6,813.5 297.5,823.5 294.4,829.5 290.3,834.5 285.0,837.4 280.0,838.2 274.0,836.9 270.0,834.7 265.0,830.5 262.7,827.5 261.0,824.3 257.9,809.5 257.6,795.5 260.0,780.5 261.7,775.5 263.4,772.5 270.7,765.5 275.2,759.5 275.9,756.5 276.3,747.5 275.3,743.5 273.0,740.5 269.9,738.5 266.0,737.0 255.0,734.3 247.0,730.7 241.0,726.7 234.0,721.0 211.0,699.3 203.0,690.5 193.6,676.5 187.4,663.5 184.6,654.5 183.3,647.5 183.2,640.5 184.4,631.5 189.0,618.7 190.7,615.5 195.0,611.7ZM60.7,631.5 70.0,631.9 92.0,631.2 99.0,632.8 104.0,636.3 106.9,640.5 108.0,646.5 107.3,652.5 104.4,659.5 99.7,666.5 83.9,682.5 71.0,697.6 64.0,704.4 60.0,707.0 53.0,709.6 44.0,711.8 40.0,711.7 36.0,710.1 36.0,641.5 42.0,636.6 47.0,633.5ZM945.4,729.5 955.0,729.4 955.0,1042.0 954.0,1042.6 952.8,1044.5 939.1,1075.5 912.5,1119.5 880.4,1158.5 844.6,1191.5 838.0,1196.6 801.0,1222.2 761.0,1241.7 734.0,1250.3 731.3,1251.5 730.5,1252.5 599.8,1252.5 597.2,1230.5 594.4,1219.5 592.8,1216.5 590.0,1213.5 585.0,1210.4 579.0,1207.5 570.0,1205.1 565.0,1204.7 560.0,1205.4 552.0,1208.4 545.0,1209.8 533.0,1210.9 507.0,1211.9 494.0,1208.0 473.4,1195.5 466.0,1192.1 461.0,1191.0 456.0,1190.7 445.0,1192.8 438.0,1193.2 435.0,1192.3 432.7,1190.5 423.0,1173.4 408.0,1157.0 406.9,1153.5 407.9,1150.5 410.6,1148.5 414.0,1147.5 422.0,1147.4 434.0,1148.3 438.0,1147.8 442.0,1146.4 466.6,1131.5 476.4,1122.5 485.0,1113.4 487.0,1112.1 489.0,1111.8 500.0,1113.6 512.0,1114.2 544.0,1112.6 555.0,1113.3 568.0,1115.3 601.0,1122.8 633.0,1127.3 642.0,1126.8 661.0,1123.5 664.0,1122.6 667.0,1121.0 668.2,1119.5 668.5,1116.5 663.6,1104.5 662.9,1099.5 663.1,1093.5 663.9,1088.5 667.3,1077.5 669.3,1068.5 669.9,1061.5 669.6,1051.5 670.0,1046.5 671.8,1041.5 675.2,1036.5 680.0,1031.8 700.6,1015.5 708.3,1011.5 712.0,1008.9 716.8,1004.5 724.0,996.6 727.7,991.5 731.3,980.5 737.5,973.5 740.3,965.5 744.0,960.9 751.0,955.5 754.0,952.5 762.0,938.9 765.0,935.5 766.0,935.2 767.2,936.5 769.0,949.5 768.1,960.5 764.0,983.5 764.2,986.5 765.0,988.0 767.0,988.9 770.0,988.3 796.0,979.0 803.0,975.1 816.0,961.5 822.2,953.5 825.0,949.1 830.1,937.5 840.4,907.5 842.5,898.5 842.2,892.5 840.6,888.5 838.1,884.5 835.0,880.7 832.0,878.3 828.0,877.2 823.0,878.3 803.0,889.1 799.0,888.8 797.0,887.6 796.5,886.5 799.9,866.5 800.3,848.5 797.5,815.5 796.7,792.5 793.1,771.5 790.3,762.5 789.3,754.5 789.3,745.5 791.0,740.3 793.0,738.3 797.0,736.9 801.0,736.9 805.0,738.4 812.0,742.5 817.0,746.4 820.4,750.5 823.2,755.5 830.8,782.5 835.7,796.5 836.8,801.5 837.2,812.5 835.4,837.5 835.7,842.5 837.0,844.5 839.0,843.3 841.4,838.5 843.8,831.5 845.5,822.5 847.2,818.5 850.0,815.2 858.4,807.5 863.4,801.5 867.2,795.5 873.4,782.5 880.0,774.5 908.0,747.0 920.0,737.6 927.0,733.5 933.0,731.2 937.0,730.2ZM634.0,1210.4 627.0,1212.6 621.2,1216.5 619.6,1218.5 618.9,1220.5 620.1,1223.5 623.0,1225.2 627.0,1226.1 638.0,1226.2 641.0,1225.5 645.0,1223.6 649.2,1219.5 650.5,1216.5 650.6,1214.5 650.0,1212.5 648.0,1210.7 643.0,1209.6ZM742.0,1149.5 729.0,1150.6 726.0,1151.8 723.7,1154.5 723.3,1158.5 725.2,1164.5 728.3,1169.5 732.0,1172.3 735.0,1173.0 739.0,1172.7 744.0,1171.3 750.0,1168.7 758.0,1163.1 760.3,1160.5 762.0,1157.5 762.5,1154.5 762.1,1152.5 761.0,1151.0 759.0,1149.7 754.0,1148.6ZM59.4,751.5 62.0,750.9 65.0,751.8 67.4,754.5 68.5,757.5 68.3,761.5 67.0,765.0 64.4,768.5 62.0,769.9 59.3,769.5 57.0,767.8 54.6,764.5 53.7,761.5 53.7,758.5 54.8,755.5 57.0,753.0ZM321.1,846.5 327.0,846.0 331.0,846.2 334.0,847.1 336.0,848.9 338.0,853.8 346.5,881.5 348.5,886.5 351.6,891.5 361.0,902.6 389.9,929.5 394.6,934.5 395.1,935.5 395.0,937.5 391.0,945.8 389.0,946.7 386.0,946.9 377.0,945.2 358.0,937.6 352.0,936.1 343.0,929.6 325.3,918.5 318.0,915.4 315.3,912.5 312.6,906.5 306.0,895.5 303.0,888.5 299.9,873.5 299.0,861.5 300.5,855.5 304.0,851.3 310.0,848.3ZM149.4,1007.5 152.0,1007.1 155.4,1008.5 157.6,1011.5 158.2,1015.5 157.0,1019.4 154.4,1022.5 150.0,1025.7 147.0,1026.4 145.2,1025.5 144.1,1023.5 144.0,1017.5 146.0,1010.8 147.8,1008.5Z" fill="#ffaa82"/>
<path fill-rule="evenodd" d="M655.5,567.5 658.0,567.0 690.0,567.5 708.0,569.3 730.0,573.2 752.0,578.3 757.0,580.1 765.0,585.4 769.0,588.8 772.0,592.5 774.3,596.5 775.8,601.5 776.1,608.5 773.0,622.8 772.4,630.5 773.5,636.5 780.4,655.5 780.9,660.5 780.0,664.0 778.0,665.2 776.0,664.2 762.4,646.5 753.6,637.5 750.6,618.5 749.8,615.5 745.3,607.5 738.2,600.5 734.0,598.6 724.0,597.2 720.0,597.7 715.0,599.5 712.0,599.2 707.0,597.1 694.0,586.8 683.0,582.8 672.0,581.1 660.0,583.2 658.0,582.9 656.9,581.5 655.9,577.5 654.8,569.5ZM202.8,611.5 206.0,612.2 209.0,615.6 211.0,620.7 215.6,636.5 219.5,646.5 224.9,656.5 233.5,667.5 239.0,672.2 244.0,674.9 262.3,678.5 272.0,682.5 280.4,687.5 290.0,694.8 297.0,702.1 300.0,707.5 300.3,709.5 299.0,711.5 295.0,712.6 279.0,713.2 274.0,714.5 268.7,717.5 262.8,724.5 260.0,726.9 257.0,728.1 254.0,728.2 248.0,726.3 239.0,720.2 213.5,696.5 208.0,690.4 203.0,683.7 197.0,673.5 191.7,661.5 189.2,653.5 188.1,647.5 187.7,641.5 188.1,634.5 189.3,627.5 191.2,621.5 193.3,617.5 196.0,614.5 199.0,612.5ZM58.1,635.5 80.0,635.0 87.0,636.0 90.0,637.6 93.6,641.5 95.5,645.5 96.0,649.5 95.1,653.5 92.0,659.2 88.0,664.0 82.9,668.5 75.0,673.6 68.0,676.6 61.0,678.6 55.0,679.4 53.0,678.6 51.7,677.5 49.4,672.5 48.3,663.5 48.3,652.5 49.7,644.5 51.6,640.5 54.1,637.5ZM303.9,725.5 305.0,725.3 306.0,725.8 306.7,728.5 306.0,731.5 304.0,733.2 302.0,732.4 301.1,729.5 302.0,727.1ZM800.8,754.5 803.0,754.9 805.9,758.5 810.1,767.5 812.6,774.5 817.3,795.5 818.8,806.5 819.9,820.5 820.1,837.5 818.2,854.5 816.3,860.5 813.0,867.4 809.5,872.5 807.0,873.9 805.7,873.5 804.4,871.5 803.8,864.5 804.6,857.5 808.0,842.2 808.6,830.5 807.5,820.5 800.0,772.5 799.1,758.5 799.8,755.5ZM288.0,765.5 291.0,764.8 294.0,766.1 297.0,769.5 298.1,772.5 298.5,778.5 298.1,785.5 296.4,789.5 294.0,791.3 291.0,791.0 289.0,789.2 286.8,785.5 283.8,777.5 283.5,774.5 284.0,772.5 286.3,767.5ZM912.6,902.5 916.0,903.1 917.3,904.5 918.0,906.5 917.6,911.5 915.1,917.5 911.5,922.5 907.0,925.8 903.0,926.3 899.0,925.0 897.0,923.0 896.0,920.5 896.4,916.5 898.0,912.8 900.0,910.3 904.3,906.5 909.0,903.7ZM319.3,904.5 322.1,904.5 323.9,905.5 325.0,906.9 325.7,910.5 324.0,913.3 322.0,913.7 320.0,913.2 317.4,910.5 316.8,908.5 317.0,906.5ZM350.8,916.5 353.0,916.4 355.0,917.5 356.6,919.5 357.9,922.5 358.4,926.5 358.1,929.5 357.0,932.1 355.0,933.5 353.0,933.4 351.0,932.3 348.6,929.5 347.4,926.5 346.9,922.5 347.5,919.5 348.9,917.5ZM754.0,957.5 756.0,957.1 757.3,957.5 758.4,958.5 759.3,960.5 759.2,966.5 757.9,973.5 752.1,992.5 745.5,1010.5 741.3,1019.5 735.1,1029.5 730.0,1036.1 725.7,1040.5 717.2,1047.5 711.0,1051.0 703.0,1053.6 696.0,1054.9 690.0,1054.5 686.0,1052.8 684.6,1051.5 683.7,1049.5 683.8,1046.5 684.7,1043.5 687.3,1038.5 697.0,1023.5 702.3,1017.5 710.0,1013.2 715.9,1008.5 726.3,997.5 729.7,992.5 732.7,981.5 739.7,974.5 741.6,968.5 743.0,965.9 746.0,962.5ZM875.0,969.5 878.0,969.9 881.4,973.5 884.1,978.5 884.7,981.5 884.5,983.5 883.6,985.5 882.0,987.2 876.3,989.5 874.4,991.5 873.2,994.5 870.1,1007.5 865.2,1017.5 856.6,1028.5 845.0,1039.1 832.0,1047.8 829.0,1048.6 826.0,1047.9 824.7,1046.5 823.9,1044.5 823.7,1038.5 825.2,1031.5 828.0,1025.5 831.0,1021.7 835.4,1017.5 851.0,1007.0 855.8,1002.5 858.4,998.5 861.7,990.5 868.5,981.5 871.7,972.5 873.0,970.7Z" fill="#ff7841"/>
<path fill-rule="evenodd" d="M684.0,573.5 698.0,574.1 734.0,580.4 746.0,584.3 754.0,588.2 758.0,591.6 761.9,596.5 764.0,600.5 765.4,605.5 765.9,610.5 765.5,615.5 763.0,627.5 761.9,630.5 759.0,632.8 757.0,632.5 756.0,631.5 754.5,626.5 752.9,616.5 751.4,612.5 747.2,605.5 740.0,598.4 735.0,596.0 726.0,594.6 721.0,594.7 714.0,596.6 710.0,595.6 695.0,584.2 687.0,581.0 680.6,579.5 678.8,578.5 678.3,577.5 679.1,575.5 681.0,574.2ZM202.4,615.5 204.0,615.6 205.6,616.5 208.0,619.6 210.0,624.1 214.6,638.5 218.6,647.5 224.2,657.5 229.2,664.5 234.0,670.1 239.0,674.1 243.0,676.2 246.0,677.2 259.5,679.5 267.8,682.5 273.8,685.5 282.8,691.5 292.0,699.0 297.0,705.2 297.4,706.5 297.0,707.9 296.0,708.5 293.0,708.6 282.0,706.2 276.0,706.4 269.6,708.5 261.0,714.4 257.0,716.5 254.0,717.3 250.0,717.5 244.0,716.5 240.0,714.7 228.2,704.5 214.0,689.5 205.7,678.5 199.6,667.5 194.6,654.5 193.0,647.9 192.4,641.5 192.5,634.5 193.3,628.5 194.7,623.5 196.9,619.5 199.8,616.5ZM73.1,641.5 81.0,641.1 83.0,641.6 85.0,642.9 86.2,644.5 87.2,647.5 87.2,650.5 86.2,653.5 82.0,659.3 76.0,663.8 67.0,667.1 64.0,667.6 62.0,667.1 60.0,665.4 58.7,661.5 59.0,655.5 60.6,649.5 62.4,646.5 65.0,644.0 68.0,642.6ZM741.3,977.5 743.0,976.6 744.0,976.9 744.8,978.5 744.7,982.5 743.6,988.5 741.1,997.5 737.2,1008.5 731.5,1019.5 723.6,1029.5 716.0,1035.9 711.0,1038.7 704.0,1041.7 700.0,1042.8 697.4,1042.5 696.2,1040.5 697.0,1037.5 706.6,1020.5 709.0,1017.5 719.0,1009.4 729.9,997.5 732.7,992.5 734.9,982.5Z" fill="#ff501e"/>
<path fill-rule="evenodd" d="M201.8,638.5 205.0,638.4 209.0,640.4 213.0,643.9 217.0,649.1 233.8,676.5 251.9,703.5 253.6,707.5 253.2,709.5 252.2,710.5 250.0,711.1 247.0,710.5 244.0,709.1 240.7,706.5 218.3,683.5 209.2,672.5 202.4,660.5 199.6,652.5 198.9,647.5 198.9,642.5 200.0,639.8Z" fill="#e13200"/>
<path fill-rule="evenodd" d="M204.6,647.5 207.0,647.1 210.0,648.4 214.0,651.6 217.5,655.5 222.7,663.5 227.0,672.2 227.7,674.5 227.0,676.6 224.0,677.1 220.2,675.5 215.0,671.4 211.0,666.9 206.6,660.5 204.4,655.5 203.3,650.5 203.7,648.5Z" fill="#b42800"/>
<path fill-rule="evenodd" d="M210.5,656.5 211.0,655.8 213.0,655.9 216.0,658.8 219.5,664.5 220.0,666.5 219.4,667.5 217.0,666.8 213.7,663.5 211.1,659.5Z" fill="#8b0000"/>
<g fill="none" stroke="#000" stroke-width="3.3" stroke-linejoin="round" stroke-linecap="round"><path d="M212.0 608.0L211.4 619.6L215.1 631.8L216.6 641.0L222.1 650.1L228.2 657.7L232.7 659.3L231.2 663.8L237.3 668.4L243.4 674.5L248.0 676.0L252.6 674.5L257.1 672.1L261.7 671.5L270.9 673.9L280.0 676.0L289.1 677.6L295.2 682.1L301.3 685.2L309.0 686.1L313.5 691.3L319.6 694.3L327.3 700.4L331.8 708.0L337.9 711.1L341.0 718.7L345.5 727.9L351.6 717.2L359.3 709.6L371.5 705.0L383.7 701.3L395.9 695.9L405.0 688.2L409.6 680.6L408.0 668.4L411.1 656.2L414.1 641.0L416.6 631.8L418.7 622.7L418.7 616.6L423.3 607.4L429.4 598.3L435.5 589.1L443.1 583.0L449.2 577.0L450.7 570.9L447.7 564.8L453.8 561.7L458.4 566.3L461.4 558.7L466.0 554.1L470.5 555.6L472.1 560.2L481.2 558.7L482.7 549.5L484.3 545.9L488.8 548.0L491.9 557.1L496.5 560.2L505.6 554.1L513.2 548.9L520.9 547.1L525.7 544.9L534.9 546.5L550.1 548.9L562.3 552.6L574.5 558.0L586.7 564.8L594.3 567.8L602.0 569.3L611.1 571.5L623.3 573.0L635.5 576.3L640.1 570.9L646.2 569.3L647.7 580.0L650.1 589.1L653.8 593.7L650.7 597.7L656.8 595.9L662.9 590.7L672.1 589.1L681.2 589.8L690.4 593.7L698.0 599.8L704.1 605.0L708.7 605.9L708.0 612.0L711.7 612.9L716.3 607.4L722.4 604.4L733.0 605.9L739.1 612.0L742.8 619.6L743.7 628.8L739.1 631.8L745.2 631.8L742.2 637.9L739.8 647.1L743.7 653.2L745.2 662.3L749.8 671.5L752.9 683.7L757.4 693.4L748.3 698.9L740.7 703.5L734.6 705.0L728.5 709.6L726.3 712.6L731.5 714.8L739.1 720.2L740.7 727.9L748.3 734.0L755.9 737.0L762.0 740.1L769.6 747.7L777.3 755.3L783.4 769.0L786.4 770.0L788.5 782.2L790.4 794.4L790.4 806.6L788.5 818.8L787.3 831.0L786.4 843.2L790.4 852.3L791.0 859.9L786.4 869.1L780.3 876.7L774.2 882.8L769.6 887.4L772.7 893.5L775.1 899.6L775.1 908.7L773.3 914.8L766.6 917.9L759.0 922.4L752.9 928.5L747.7 936.2L744.6 945.3L743.7 951.4L737.6 952.9L736.1 960.5L732.4 965.1L732.4 971.2L723.9 971.8L716.3 974.3L719.3 980.4L723.3 983.4L722.4 989.5L717.2 995.6L711.7 1001.7L705.6 1006.3L696.5 1009.3L690.4 1013.9L681.2 1018.5L675.1 1022.4L670.5 1021.5L666.0 1026.1L659.9 1021.5L653.8 1024.6L646.2 1021.5L638.5 1023.0L629.4 1027.6L621.8 1029.1L614.1 1032.8L608.0 1030.7L600.4 1029.1L600.4 1033.7L589.8 1034.3L577.6 1032.2L573.9 1024.6L570.9 1019.4L568.4 1026.1L566.9 1031.6L563.8 1026.1L554.7 1029.1L545.5 1025.5L536.4 1023.0L533.4 1018.5L530.3 1013.9L531.8 1006.3L536.4 1000.2L541.0 997.1L542.5 988.0L545.5 983.4L546.5 977.3L549.5 969.7L547.7 962.1L544.0 952.9L539.5 943.8L536.4 937.1L530.3 933.1L528.8 930.1L536.4 927.9L540.4 922.4L541.0 917.9L537.9 910.2L534.3 901.1L528.8 892.0L522.7 884.3L515.1 876.7L507.4 873.0L499.8 870.6L493.7 864.5L487.6 858.4L480.0 852.3L478.2 850.8L470.5 843.2L464.5 840.1L461.4 844.7L461.4 855.4L458.4 864.5L453.8 875.2L449.2 884.3L444.6 888.9L438.5 887.4L429.4 886.8L430.9 895.0L434.0 905.7L437.0 916.3L440.1 924.0L432.4 924.0L434.0 928.5L437.0 933.1L437.0 939.2L432.4 941.3L427.9 937.7L425.7 931.6L426.3 925.5L420.2 921.8L411.1 922.4L404.4 927.0L400.4 933.1L399.5 939.2L389.8 936.2L382.1 930.1L371.5 928.5L362.3 927.0L357.7 922.4L356.2 913.3L356.8 904.1L356.2 898.0L347.1 901.1L337.9 903.5L328.8 902.6L322.7 904.1L319.6 907.2L317.2 901.1L321.2 896.5L322.1 892.0L316.6 890.4L313.5 884.3L319.6 881.3L325.7 878.2L328.2 872.1L325.7 866.0L319.6 864.5L312.0 867.6L305.9 867.6L307.4 863.0L313.5 859.9L316.6 855.4L315.1 851.7L307.4 852.3L305.9 856.9L310.5 858.4L316.6 846.2L312.0 840.1L309.0 834.0L309.9 826.4L307.4 824.3L302.9 826.4L298.3 829.5L292.2 831.0L286.1 835.5L283.0 838.6L281.5 832.5L284.6 827.9L286.1 823.4L292.2 818.8L289.1 815.7L283.0 815.7L278.5 820.3L273.9 826.4L272.4 834.0L269.3 831.0L270.9 824.9L269.3 818.8L273.9 815.7L277.0 809.6L278.5 800.5L280.6 791.3L282.4 782.2L283.7 774.6L282.4 772.1L284.6 759.9L289.1 750.7L283.0 747.7L280.0 746.2L284.6 740.1L289.1 735.5L296.8 737.0L298.3 726.3L297.7 715.7L292.2 708.0L283.0 703.5L273.9 700.4L264.8 698.9L255.6 698.3L257.1 692.8L254.1 688.2L243.4 683.7L237.3 685.2L234.3 692.8L228.2 691.3L225.1 683.7L229.7 679.1L225.1 673.0L220.5 665.4L216.0 659.3L211.4 653.2L206.8 650.1L205.3 644.0L209.9 641.0L208.4 631.8L209.3 622.7L209.9 613.5Z"/><path d="M244.9 703.5L249.5 708.0L267.8 707.4L280.0 709.6L289.1 714.8L290.7 723.3L283.0 729.4L270.9 737.0L266.3 735.5L270.9 723.3L264.8 714.1L249.5 711.1L244.9 703.5"/><path d="M250.1 723.3L257.1 721.8L260.2 727.9L258.7 734.0L252.6 732.4L250.1 723.3"/><path d="M194.6 602.0L197.1 610.5L196.2 624.2L192.2 625.1L191.6 613.5L192.5 605.9L194.6 602.0Z" fill="#000"/><path d="M212.3 599.8L220.5 598.9L219.6 605.9L212.9 606.8L212.3 599.8"/><path d="M223.6 530.6L233.7 528.2L231.8 533.7L226.6 536.7L223.6 530.6Z" fill="#000"/><path d="M452.3 908.7L456.8 906.6L459.9 911.8L456.8 922.4L453.2 927.0L450.1 922.4L450.7 913.3L452.3 908.7"/><path d="M522.7 946.2L528.8 941.3L533.4 942.3L532.4 949.3L522.7 946.2"/><path d="M401.3 936.2L408.0 934.0L411.1 937.1L405.0 939.2L401.3 936.2"/></g>
</g><circle cx="494.85" cy="792.15" r="447.6" fill="none" stroke="#000" stroke-width="2.7"/>
<g clip-path="url(#clip1)"><circle cx="1493.00" cy="792.15" r="449.6" fill="#00008b"/>
<path fill-rule="evenodd" d="M1034.2,333.5 1953.2,333.5 1953.2,1252.5 1034.2,1252.5ZM1376.2,871.3 1371.2,873.2 1368.6,875.5 1367.5,878.5 1367.8,881.5 1370.0,886.5 1374.2,892.5 1379.2,896.9 1381.2,898.0 1383.2,898.3 1384.5,897.5 1385.3,895.5 1383.9,884.5 1385.2,874.5 1384.2,872.5 1382.2,871.4ZM1397.2,845.4 1395.2,846.8 1393.8,848.5 1392.5,853.5 1393.2,860.1 1394.6,863.5 1396.0,865.5 1399.2,867.7 1404.2,869.0 1412.2,868.8 1416.2,867.1 1417.4,864.5 1416.7,861.5 1414.2,857.2 1410.2,852.1 1406.2,847.8 1403.2,845.7 1400.2,844.9ZM1432.2,867.4 1430.2,868.6 1428.6,870.5 1427.9,872.5 1428.2,875.4 1429.4,877.5 1431.2,878.7 1435.2,879.1 1438.2,877.6 1440.2,875.5 1441.5,872.5 1441.4,870.5 1440.2,868.2 1438.2,866.9 1435.2,866.6ZM1519.2,581.4 1508.2,587.8 1490.0,591.5 1474.6,602.5 1472.2,605.5 1470.8,608.5 1468.9,615.5 1468.4,622.5 1471.3,646.5 1472.1,663.5 1471.1,670.5 1467.5,679.5 1466.9,683.5 1469.5,698.5 1469.7,706.5 1469.0,709.5 1467.2,712.5 1459.8,717.5 1456.2,722.5 1453.9,728.5 1451.9,736.5 1451.3,740.5 1451.5,744.5 1453.4,749.5 1459.4,759.5 1460.2,763.5 1459.7,771.5 1460.2,775.5 1467.0,791.5 1470.7,796.5 1476.2,801.8 1481.2,804.9 1487.2,806.3 1488.0,807.5 1487.6,815.5 1488.7,824.5 1491.2,832.5 1494.7,839.5 1497.2,842.0 1500.2,842.3 1502.7,840.5 1507.2,834.8 1509.2,833.9 1511.1,834.5 1513.1,837.5 1516.7,847.5 1520.1,854.5 1532.2,874.5 1537.2,879.7 1547.2,884.6 1550.2,887.4 1552.3,890.5 1557.2,901.5 1558.6,909.5 1558.2,914.5 1557.0,919.5 1555.2,924.3 1551.5,931.5 1549.8,938.5 1550.0,948.5 1553.0,961.5 1554.9,966.5 1557.3,970.5 1568.2,981.2 1574.1,989.5 1587.2,994.0 1589.2,993.2 1593.2,989.6 1596.2,988.4 1625.2,983.7 1637.2,980.5 1649.2,976.0 1657.2,971.1 1676.2,949.4 1682.6,939.5 1690.6,922.5 1694.1,916.5 1701.2,907.5 1716.7,891.5 1722.5,884.5 1726.5,878.5 1730.0,871.5 1731.9,864.5 1732.0,852.5 1734.8,840.5 1735.1,825.5 1737.8,815.5 1737.9,811.5 1735.6,807.5 1726.0,800.5 1721.0,795.5 1716.9,790.5 1712.8,783.5 1705.8,767.5 1697.2,750.5 1697.2,748.5 1698.2,746.2 1704.6,739.5 1705.3,737.5 1704.4,735.5 1698.7,728.5 1696.6,723.5 1694.8,712.5 1696.7,701.5 1698.8,696.5 1704.0,689.5 1715.2,680.0 1715.9,678.5 1715.8,676.5 1713.7,668.5 1710.8,664.5 1706.2,660.4 1699.0,655.5 1686.2,648.1 1670.1,642.3 1650.2,637.5 1630.2,628.3 1623.2,626.3 1615.2,624.9 1608.2,622.6 1598.2,616.6 1583.2,605.3 1573.2,599.2 1541.2,585.2 1525.1,581.2 1522.2,580.8Z" fill="#0019b4"/>
<path fill-rule="evenodd" d="M1034.2,333.5 1953.2,333.5 1953.2,1252.5 1034.2,1252.5ZM1527.2,571.4 1522.2,572.8 1508.2,581.8 1504.2,583.4 1495.2,584.9 1483.2,583.5 1475.2,585.0 1471.2,587.7 1465.2,595.1 1460.2,600.2 1453.2,605.5 1449.2,606.8 1441.2,608.0 1434.2,606.9 1427.2,605.0 1424.2,607.2 1421.2,612.3 1419.2,616.7 1418.6,624.5 1413.8,640.5 1408.2,666.0 1407.8,670.5 1408.5,680.5 1404.7,693.5 1403.2,696.9 1400.4,700.5 1390.2,709.1 1386.1,713.5 1383.6,719.5 1383.1,725.5 1384.5,731.5 1390.8,742.5 1391.3,745.5 1391.2,749.5 1391.9,751.5 1394.2,752.3 1402.2,753.0 1410.9,754.5 1421.2,757.3 1425.2,758.7 1428.0,760.5 1429.1,762.5 1428.9,763.5 1428.2,764.5 1426.2,765.4 1420.2,765.4 1392.2,760.0 1390.9,761.5 1390.7,767.5 1389.6,769.5 1387.7,771.5 1376.2,778.4 1367.2,785.5 1357.2,789.8 1354.0,792.5 1353.8,795.5 1355.5,798.5 1358.2,800.9 1365.2,805.4 1367.6,808.5 1371.9,818.5 1376.4,827.5 1377.8,832.5 1377.8,835.5 1377.0,838.5 1368.0,858.5 1361.8,875.5 1360.2,885.5 1361.0,892.5 1362.8,896.5 1365.0,899.5 1373.3,906.5 1381.2,910.6 1391.2,913.5 1400.2,914.1 1409.2,914.0 1418.2,913.1 1424.2,913.5 1430.2,915.1 1435.2,919.5 1436.2,919.8 1437.4,918.5 1438.5,913.5 1439.2,912.5 1441.2,912.0 1447.2,915.8 1452.2,917.8 1472.2,922.0 1480.2,923.0 1487.2,923.0 1494.2,922.1 1503.4,918.5 1504.2,917.5 1504.2,915.5 1500.0,909.5 1494.2,904.5 1480.2,895.4 1475.3,890.5 1472.0,885.5 1464.6,870.5 1460.4,859.5 1459.8,854.5 1460.0,850.5 1460.9,847.5 1463.4,843.5 1462.2,841.5 1450.2,834.4 1441.2,830.2 1429.2,826.3 1417.2,823.4 1410.2,820.9 1406.2,818.5 1404.2,815.5 1404.9,813.5 1406.2,812.5 1412.2,810.7 1429.2,809.3 1438.2,807.9 1442.2,808.0 1445.2,808.8 1453.2,812.9 1465.2,816.7 1473.2,822.5 1481.2,825.3 1484.2,827.1 1486.5,830.5 1487.8,834.5 1488.3,839.5 1487.9,844.5 1486.9,848.5 1485.8,850.5 1484.2,852.0 1479.8,853.5 1480.0,854.5 1487.4,860.5 1493.3,864.5 1510.2,872.3 1516.2,875.9 1524.1,883.5 1529.3,891.5 1533.5,901.5 1535.9,914.5 1538.3,918.5 1538.5,920.5 1537.6,923.5 1536.2,925.7 1534.2,927.6 1529.2,930.0 1528.4,931.5 1528.6,932.5 1533.9,937.5 1535.3,939.5 1541.2,951.5 1546.0,959.5 1548.3,967.5 1547.9,972.5 1544.8,983.5 1542.1,990.5 1542.2,993.9 1543.9,996.5 1549.2,1000.1 1551.2,1000.8 1553.2,1000.3 1557.2,997.8 1560.2,996.6 1567.2,995.2 1571.2,995.1 1581.2,997.6 1591.2,1005.0 1600.2,1004.4 1610.2,1005.8 1617.2,1004.4 1628.2,999.8 1641.2,997.1 1645.2,996.9 1652.1,997.7 1658.2,997.0 1664.2,997.3 1666.2,996.8 1676.2,991.9 1683.2,987.4 1690.2,983.8 1690.8,981.5 1690.1,975.5 1690.3,972.5 1691.7,965.5 1693.5,961.5 1696.7,957.5 1700.2,954.5 1710.8,948.5 1714.2,940.6 1720.4,932.5 1723.0,925.5 1724.7,922.5 1733.2,911.4 1744.2,900.5 1744.6,897.5 1743.1,887.5 1745.4,876.5 1750.1,869.9 1760.2,859.5 1761.8,856.5 1759.9,841.5 1761.6,820.5 1763.8,804.5 1763.7,795.5 1761.9,785.5 1754.9,771.5 1752.2,767.8 1745.4,761.5 1734.2,756.1 1722.2,747.0 1718.2,742.5 1714.5,736.5 1706.2,729.3 1703.3,725.5 1701.9,722.5 1700.2,712.5 1701.6,704.5 1702.9,700.5 1709.2,692.0 1721.6,682.5 1723.0,680.5 1718.4,664.5 1715.2,656.5 1713.7,648.5 1713.8,641.5 1713.1,639.5 1711.2,638.3 1699.2,636.3 1694.2,634.3 1688.2,629.5 1681.2,620.5 1675.2,616.1 1672.2,615.7 1664.2,619.8 1651.2,622.5 1647.2,622.4 1639.2,620.8 1634.2,618.0 1629.4,613.5 1626.2,608.5 1624.2,601.5 1621.5,599.5 1616.2,597.9 1603.2,595.8 1582.2,591.2 1573.2,587.8 1560.0,580.5 1549.2,575.7 1538.2,572.8ZM1429.8,615.5 1435.2,614.9 1439.2,616.6 1441.7,619.5 1442.6,622.5 1442.6,624.5 1441.0,628.5 1437.2,632.3 1433.2,633.9 1428.2,634.2 1425.2,633.3 1422.2,630.9 1420.4,627.5 1420.2,624.5 1420.7,622.5 1423.2,619.1 1426.2,616.9ZM1425.4,788.5 1435.2,787.5 1446.2,788.7 1448.2,789.6 1450.6,791.5 1451.7,793.5 1451.7,795.5 1451.2,796.6 1449.2,798.1 1442.2,799.7 1436.2,799.8 1427.2,798.5 1422.2,796.5 1419.9,793.5 1420.1,791.5 1420.9,790.5Z" fill="#0032dc"/>
<path fill-rule="evenodd" d="M1034.2,333.5 1953.2,333.5 1953.2,1252.5 1034.2,1252.5ZM1524.2,565.3 1519.2,567.0 1506.0,575.5 1501.3,577.5 1494.2,578.5 1483.2,576.9 1474.2,578.5 1471.2,579.5 1465.9,583.5 1461.2,589.8 1455.6,595.5 1452.0,598.5 1449.2,600.1 1441.2,601.5 1430.2,599.3 1426.2,601.7 1421.5,607.5 1417.1,616.5 1416.4,623.5 1414.9,630.5 1410.7,641.5 1405.4,665.5 1404.9,669.5 1405.6,680.5 1402.7,687.5 1398.1,692.5 1392.2,696.8 1382.2,701.2 1361.2,708.1 1359.2,709.3 1358.3,710.5 1360.6,717.5 1361.7,725.5 1362.3,738.5 1361.6,746.5 1359.7,753.5 1356.3,762.5 1343.6,789.5 1342.6,793.5 1343.5,798.5 1346.6,803.5 1350.1,806.5 1358.1,811.5 1360.7,814.5 1363.5,821.5 1365.5,831.5 1365.7,836.5 1364.7,841.5 1357.8,854.5 1355.9,860.5 1354.2,879.5 1355.1,887.5 1356.2,891.2 1360.2,899.4 1367.2,906.5 1376.9,912.5 1389.2,917.6 1419.6,927.5 1436.2,931.9 1447.2,936.2 1509.2,946.5 1523.9,950.5 1539.2,956.3 1541.9,958.5 1543.3,960.5 1545.2,965.9 1545.6,969.5 1540.5,988.5 1538.8,1000.5 1539.4,1001.5 1546.2,1006.3 1549.2,1007.7 1553.2,1008.3 1561.2,1003.1 1566.2,1001.8 1570.2,1001.5 1575.8,1002.5 1579.2,1003.9 1582.4,1006.5 1588.2,1012.3 1590.2,1012.4 1599.2,1010.9 1610.2,1012.4 1620.2,1010.3 1631.2,1005.7 1641.2,1003.6 1645.2,1003.4 1652.2,1004.2 1658.2,1003.5 1664.2,1003.9 1668.2,1003.1 1679.2,997.7 1687.2,992.7 1694.2,989.9 1697.1,987.5 1698.1,984.5 1696.7,976.5 1696.7,973.5 1697.6,968.5 1699.2,964.9 1701.9,961.5 1705.2,958.9 1714.2,954.9 1715.9,953.5 1717.2,951.5 1719.5,944.5 1725.9,936.5 1728.8,928.5 1731.2,924.6 1739.1,914.5 1745.2,908.7 1751.2,904.1 1752.4,902.5 1752.5,900.5 1750.6,894.5 1749.6,888.5 1751.2,879.8 1754.8,874.5 1766.2,862.5 1768.3,859.5 1769.2,856.5 1766.4,842.5 1768.0,821.5 1770.3,803.5 1770.1,794.5 1767.9,782.5 1760.3,767.5 1757.2,763.5 1749.2,756.0 1737.6,750.5 1726.9,742.5 1723.2,738.1 1720.2,732.3 1712.2,726.2 1709.8,723.5 1708.1,720.5 1706.9,715.5 1706.7,711.5 1707.9,705.5 1709.8,701.5 1715.2,695.3 1723.2,689.4 1730.2,686.3 1731.2,685.2 1731.7,683.5 1730.8,679.5 1726.5,670.5 1724.3,661.5 1721.2,653.7 1720.1,647.5 1720.2,639.5 1718.2,632.0 1716.2,631.0 1707.2,631.4 1698.2,629.0 1693.1,625.3 1688.2,618.2 1685.2,615.3 1679.2,610.6 1674.2,608.7 1670.2,608.9 1663.2,613.2 1653.2,615.7 1648.2,616.1 1641.2,614.6 1636.4,611.5 1633.2,607.6 1631.7,604.5 1629.9,596.5 1627.8,594.5 1618.2,591.7 1604.2,589.5 1584.2,585.0 1576.2,581.9 1560.1,573.2 1549.2,568.8 1541.2,566.8 1531.2,565.1 1527.2,564.9ZM1429.3,617.5 1433.2,616.7 1436.2,617.1 1439.2,619.0 1440.5,621.5 1440.7,624.5 1439.6,627.5 1437.2,630.1 1434.2,631.8 1430.2,632.4 1426.2,631.8 1424.2,630.4 1422.4,627.5 1422.2,624.5 1423.5,621.5 1426.2,619.0ZM1435.4,810.5 1442.2,810.2 1445.2,811.3 1447.2,812.7 1448.6,814.5 1449.2,817.5 1448.4,820.5 1447.2,822.1 1444.2,824.2 1440.2,825.2 1436.1,824.4 1432.2,821.8 1430.1,818.5 1429.9,814.5 1432.2,811.7ZM1454.9,818.5 1458.2,817.6 1463.2,818.0 1466.2,819.6 1468.7,822.5 1469.8,825.5 1469.6,829.5 1467.5,833.5 1464.2,836.5 1461.2,837.2 1458.2,836.4 1454.0,833.5 1451.8,830.5 1450.8,826.5 1451.0,823.5 1452.4,820.5ZM1474.4,827.5 1477.2,826.6 1481.2,827.3 1483.8,829.5 1485.4,832.5 1486.4,838.5 1486.0,844.5 1484.8,848.5 1482.2,850.6 1479.1,850.2 1476.4,848.5 1473.9,845.5 1472.5,842.5 1471.5,837.5 1471.5,832.5 1472.5,829.5Z" fill="#1e50ff"/>
<path fill-rule="evenodd" d="M1034.2,333.5 1953.2,333.5 1953.2,1252.5 1034.2,1252.5ZM1525.2,555.5 1515.2,558.4 1501.2,567.4 1497.2,569.0 1493.2,569.1 1487.2,566.8 1485.2,566.6 1476.2,568.8 1467.2,569.6 1462.2,574.2 1458.1,576.5 1454.1,583.5 1447.0,590.5 1442.2,592.2 1439.2,592.0 1435.2,590.7 1432.2,591.7 1423.3,601.5 1418.6,608.5 1415.3,615.5 1414.2,625.0 1412.2,632.9 1410.2,635.7 1408.2,636.9 1398.2,641.3 1395.2,641.0 1392.7,638.5 1384.2,622.5 1380.2,619.0 1376.2,617.7 1372.2,618.3 1367.2,621.3 1363.4,625.5 1359.9,631.5 1350.0,651.5 1347.4,659.5 1346.8,667.5 1350.1,679.5 1349.9,682.5 1348.5,686.5 1338.5,703.5 1335.4,707.5 1331.2,710.4 1323.2,712.6 1322.0,713.5 1321.3,715.5 1322.1,718.5 1330.1,732.5 1341.3,748.5 1343.4,753.5 1343.7,756.5 1343.2,760.5 1341.9,764.5 1337.5,773.5 1337.0,779.5 1341.3,804.5 1345.8,835.5 1352.5,860.5 1352.4,879.5 1354.2,890.0 1356.2,895.3 1359.2,900.6 1363.8,905.5 1370.2,910.5 1380.0,915.5 1418.5,931.5 1428.2,936.4 1443.3,945.5 1447.1,949.5 1454.0,961.5 1457.2,965.7 1463.2,971.1 1473.4,977.5 1473.6,978.5 1471.5,980.5 1484.2,981.5 1496.7,979.5 1503.2,979.3 1507.2,979.8 1509.4,981.5 1512.2,982.0 1517.2,981.5 1526.2,979.6 1530.2,980.4 1537.0,983.5 1538.2,984.9 1538.5,986.5 1537.4,994.5 1536.6,996.5 1532.2,1002.5 1530.9,1005.5 1530.7,1007.5 1531.2,1008.7 1532.2,1009.5 1536.1,1010.7 1543.2,1015.7 1552.0,1018.5 1555.2,1018.5 1559.2,1017.1 1565.2,1011.7 1568.2,1010.9 1571.2,1010.9 1574.2,1012.0 1576.2,1013.5 1583.1,1023.5 1585.2,1024.5 1588.2,1024.9 1590.2,1024.4 1595.2,1021.0 1598.2,1020.3 1602.2,1020.4 1611.2,1022.2 1613.2,1022.0 1625.1,1018.5 1634.2,1014.5 1641.2,1012.9 1645.2,1012.7 1652.2,1013.8 1657.2,1012.9 1664.2,1013.3 1671.2,1012.2 1683.2,1006.3 1691.2,1001.3 1700.1,997.5 1703.7,994.5 1709.0,988.5 1709.4,985.5 1706.7,979.5 1706.0,976.5 1706.0,973.5 1706.9,970.5 1708.3,968.5 1710.8,966.5 1720.2,963.1 1722.2,961.6 1725.3,956.5 1728.1,948.5 1733.9,942.5 1737.4,932.5 1742.1,925.5 1751.2,915.9 1761.2,909.5 1763.3,907.5 1764.0,904.5 1763.6,901.5 1759.7,892.5 1759.0,889.5 1759.5,884.5 1762.0,880.5 1770.8,871.5 1775.2,866.3 1778.2,861.2 1779.4,857.5 1779.1,854.5 1776.5,847.5 1775.7,842.5 1777.3,821.5 1779.6,802.5 1779.2,793.5 1776.2,777.5 1772.6,771.5 1768.2,762.0 1765.4,758.5 1755.2,748.5 1742.2,742.2 1733.2,735.5 1730.8,732.5 1728.2,726.0 1718.8,719.5 1717.2,717.5 1716.1,714.5 1716.0,711.5 1716.8,708.5 1720.2,703.5 1728.2,697.4 1735.8,694.5 1740.2,692.1 1742.0,690.5 1742.7,688.5 1739.7,676.5 1735.4,667.5 1732.9,657.5 1729.9,650.5 1729.1,642.5 1725.9,635.5 1725.6,630.5 1728.0,623.5 1727.8,621.5 1726.2,619.1 1724.2,618.3 1722.2,618.8 1717.2,623.0 1713.2,624.8 1709.2,625.2 1703.2,624.1 1698.2,621.1 1693.2,613.8 1684.2,606.1 1680.2,603.8 1674.2,602.1 1668.2,602.4 1661.2,606.9 1655.2,608.9 1650.2,609.7 1645.2,609.1 1641.2,607.0 1638.3,603.5 1637.3,600.5 1636.2,591.5 1635.0,588.5 1633.2,586.3 1620.2,582.6 1606.2,580.6 1588.2,576.5 1580.2,573.3 1563.8,564.5 1553.8,560.5 1541.4,557.5 1528.7,555.5ZM1430.8,618.5 1434.2,618.1 1437.2,619.2 1439.0,621.5 1439.2,624.8 1437.8,627.5 1435.2,629.7 1431.2,630.9 1427.2,630.6 1425.1,629.4 1423.9,627.5 1423.6,625.5 1424.0,623.5 1426.5,620.5ZM1437.1,813.5 1441.2,813.4 1443.9,814.5 1444.9,816.5 1444.2,819.1 1442.2,820.5 1440.2,821.0 1437.3,820.5 1435.8,819.5 1434.3,817.5 1434.1,815.5 1435.2,814.3ZM1459.1,819.5 1462.2,819.6 1464.4,820.5 1466.4,822.5 1467.4,825.5 1467.3,828.5 1466.0,831.5 1464.2,833.6 1461.2,835.0 1458.7,834.5 1455.9,832.5 1453.9,829.5 1453.2,826.5 1453.6,823.5 1454.8,821.5 1456.2,820.5ZM1477.6,828.5 1479.3,828.5 1481.5,829.5 1483.2,831.5 1484.3,834.5 1484.8,838.5 1484.6,843.5 1483.4,847.5 1482.2,848.7 1479.5,848.5 1477.1,846.5 1475.4,843.5 1474.2,839.5 1473.7,835.5 1474.2,832.0 1475.6,829.5Z" fill="#4178ff"/>
<path fill-rule="evenodd" d="M1034.2,333.5 1953.2,333.5 1953.2,1252.5 1034.2,1252.5ZM1398.2,535.4 1384.2,539.0 1369.5,546.5 1360.6,552.5 1340.2,569.0 1331.2,575.5 1321.4,581.5 1310.5,589.5 1302.8,597.5 1293.7,610.5 1284.5,620.5 1279.0,627.5 1274.4,634.5 1273.0,639.5 1273.5,642.5 1275.6,645.5 1293.2,659.1 1298.2,663.6 1301.5,667.5 1304.5,672.5 1312.5,692.5 1315.0,703.5 1315.8,716.5 1307.8,768.5 1307.5,777.5 1308.6,786.5 1310.2,792.0 1312.9,796.5 1331.6,810.5 1335.6,814.5 1338.3,818.5 1339.6,822.5 1342.4,839.5 1350.0,865.5 1351.7,884.5 1353.2,890.5 1355.5,896.5 1360.2,903.4 1368.2,910.4 1376.2,914.9 1392.4,922.5 1398.7,926.5 1413.2,942.1 1418.9,950.5 1419.4,953.5 1418.1,956.5 1404.2,971.5 1400.8,976.5 1400.2,980.5 1402.0,984.5 1411.1,993.6 1431.2,1008.7 1438.2,1012.6 1454.2,1018.8 1460.2,1021.9 1466.2,1021.9 1490.2,1018.3 1504.2,1017.2 1514.2,1014.1 1521.2,1013.7 1524.2,1014.4 1530.2,1018.0 1533.3,1018.5 1538.2,1021.9 1552.2,1026.4 1555.2,1026.3 1564.2,1024.2 1568.2,1019.5 1570.2,1019.1 1572.2,1020.6 1576.1,1027.5 1578.2,1029.9 1581.2,1031.2 1588.2,1032.4 1594.2,1032.0 1596.2,1030.7 1598.2,1028.4 1600.2,1027.7 1605.4,1028.5 1611.2,1030.2 1613.2,1030.3 1620.2,1027.5 1628.2,1025.2 1636.2,1021.6 1641.2,1020.4 1645.2,1020.3 1652.2,1021.8 1658.2,1020.4 1663.2,1021.9 1665.2,1021.8 1675.2,1018.6 1688.2,1011.9 1694.2,1008.0 1702.2,1004.3 1709.2,998.5 1716.2,990.6 1718.0,987.5 1718.2,984.4 1715.1,979.5 1713.9,976.5 1714.1,974.5 1714.8,973.5 1717.2,972.1 1725.2,969.9 1727.6,968.5 1732.2,959.5 1734.2,953.5 1739.8,948.5 1743.8,936.5 1748.4,929.5 1756.2,921.5 1768.2,914.4 1770.1,912.5 1772.5,906.5 1772.7,903.5 1772.2,901.5 1766.8,890.5 1766.4,887.5 1768.1,884.5 1775.2,877.8 1782.0,869.5 1786.1,861.5 1787.1,857.5 1786.8,853.5 1784.1,846.5 1783.3,842.5 1784.7,821.5 1786.8,807.5 1786.8,797.5 1786.5,791.5 1783.0,773.5 1779.4,768.5 1774.1,757.5 1762.6,744.5 1758.4,741.5 1745.4,735.5 1740.0,731.5 1737.3,728.5 1734.8,721.5 1725.2,714.9 1723.7,712.5 1724.7,709.5 1727.8,706.5 1732.2,703.7 1739.2,701.2 1748.2,696.1 1751.3,693.5 1752.0,691.5 1746.3,672.5 1742.2,664.4 1739.7,654.5 1736.6,647.5 1736.2,641.6 1731.4,637.5 1729.8,634.5 1729.7,630.5 1732.7,623.5 1732.5,621.5 1731.1,618.5 1729.2,615.9 1727.2,614.5 1723.2,613.9 1720.2,615.0 1715.1,619.4 1712.2,620.9 1708.2,621.1 1704.2,620.1 1700.4,617.5 1696.7,611.5 1686.2,602.5 1681.2,599.9 1675.2,598.2 1670.2,597.9 1666.8,598.5 1659.2,603.4 1654.2,605.1 1650.2,605.7 1646.2,605.2 1643.2,603.3 1641.4,600.5 1640.9,593.5 1638.2,583.5 1637.0,580.5 1635.2,578.7 1631.2,578.1 1621.2,575.4 1608.2,573.5 1593.2,570.3 1583.2,566.5 1568.2,558.4 1560.2,554.8 1547.2,551.1 1527.2,547.8 1523.2,548.0 1512.2,551.5 1498.3,560.5 1495.8,561.5 1493.2,561.2 1490.5,559.5 1488.6,557.5 1486.2,552.9 1485.2,551.8 1484.2,551.7 1483.2,552.6 1481.0,558.5 1480.2,559.6 1478.2,560.8 1471.2,561.8 1469.2,560.9 1466.2,558.1 1464.2,557.8 1462.2,559.4 1458.2,567.0 1456.2,567.6 1452.2,566.3 1451.0,566.5 1450.2,567.5 1450.2,574.5 1449.2,577.6 1447.1,580.5 1442.2,584.5 1438.2,584.6 1435.2,583.2 1427.2,577.2 1424.6,574.5 1421.8,570.5 1419.0,562.5 1416.3,546.5 1414.6,542.5 1412.6,539.5 1410.2,537.2 1406.2,535.3 1402.2,534.9ZM1432.9,620.5 1436.2,621.6 1436.8,623.5 1436.2,625.7 1434.3,627.5 1431.6,628.5 1428.5,628.5 1427.2,627.8 1426.1,625.5 1426.9,623.5 1429.5,621.5Z" fill="#82aaff"/>
<path fill-rule="evenodd" d="M1034.2,333.5 1953.2,333.5 1953.2,1252.5 1034.2,1252.5ZM1419.2,478.5 1410.2,479.2 1393.2,481.8 1380.1,485.5 1375.2,487.8 1370.0,491.5 1364.6,498.5 1361.2,501.6 1337.2,515.3 1318.2,526.9 1301.2,541.5 1281.4,554.5 1268.2,565.9 1263.2,568.7 1239.4,578.5 1228.2,584.3 1216.2,592.5 1214.2,594.7 1213.0,597.5 1212.8,601.5 1214.1,607.5 1218.1,620.5 1221.6,629.5 1229.1,644.5 1237.2,654.2 1241.5,657.5 1246.2,659.7 1272.2,667.2 1289.2,673.9 1298.2,676.9 1302.2,679.5 1305.2,683.8 1308.2,690.6 1310.2,697.2 1312.9,716.5 1304.7,770.5 1304.9,781.5 1307.2,792.0 1309.2,796.2 1311.9,799.5 1323.2,807.4 1329.2,812.5 1332.1,815.5 1334.6,819.5 1335.8,823.5 1338.6,840.5 1347.7,871.5 1350.8,886.5 1353.5,894.5 1356.5,900.5 1360.2,905.0 1367.2,911.1 1385.0,920.5 1391.0,924.5 1393.3,927.5 1395.5,932.5 1396.1,942.5 1394.7,948.5 1392.2,953.3 1390.3,955.5 1383.2,959.6 1372.2,962.5 1362.2,962.8 1344.2,960.6 1325.2,955.7 1324.2,956.0 1323.3,957.5 1324.3,961.5 1331.3,973.5 1339.2,982.3 1350.6,991.5 1368.2,1007.8 1391.2,1025.8 1402.2,1032.8 1411.2,1037.0 1428.2,1042.6 1446.2,1046.5 1473.2,1049.0 1485.2,1048.8 1497.2,1046.2 1517.3,1038.5 1531.2,1036.6 1559.2,1039.0 1586.2,1037.8 1613.2,1039.0 1621.1,1038.7 1628.2,1037.7 1637.2,1035.5 1659.2,1027.8 1665.2,1026.8 1681.7,1020.5 1699.2,1010.2 1705.2,1005.7 1712.2,999.3 1719.7,990.5 1724.3,979.5 1740.8,956.5 1752.5,941.5 1769.4,923.5 1775.2,915.5 1777.9,910.5 1780.2,904.5 1783.7,890.5 1790.5,868.5 1793.4,856.5 1796.8,837.5 1798.1,823.5 1798.0,806.5 1797.0,795.5 1794.3,783.5 1783.4,750.5 1779.4,741.5 1773.2,730.2 1771.1,725.5 1763.8,694.5 1753.7,668.5 1745.7,649.5 1741.1,645.5 1740.9,640.5 1740.2,638.6 1735.2,636.3 1733.0,633.5 1733.2,630.5 1735.7,626.5 1736.3,624.5 1736.0,621.5 1734.8,618.5 1733.1,615.5 1730.2,612.4 1728.2,611.3 1724.1,610.5 1721.2,610.8 1719.2,611.7 1711.7,617.5 1709.2,617.9 1706.2,617.4 1703.1,615.5 1699.6,609.5 1688.2,599.9 1684.2,597.6 1677.2,595.2 1671.2,594.6 1666.1,595.3 1663.2,596.5 1656.2,601.1 1651.2,602.4 1647.2,602.0 1644.7,599.5 1644.6,593.5 1641.8,584.5 1639.7,574.5 1638.6,572.5 1633.2,570.1 1628.2,566.1 1624.2,563.7 1589.2,547.2 1555.2,533.1 1545.2,530.7 1532.2,529.9 1475.2,533.3 1465.2,533.0 1464.1,532.5 1463.8,531.5 1464.4,530.5 1470.2,527.4 1494.2,518.0 1518.2,511.0 1519.9,509.5 1520.9,507.5 1520.8,504.5 1519.4,501.5 1516.2,497.2 1510.2,492.6 1502.2,489.0 1494.2,486.3 1476.2,482.8 1430.2,478.7Z" fill="#b4cdff"/>
<path fill-rule="evenodd" d="M1034.2,333.5 1953.2,333.5 1953.2,1252.5 1034.2,1252.5ZM1470.2,430.5 1452.2,433.0 1409.2,436.1 1396.2,438.4 1320.2,461.0 1300.2,469.1 1286.2,476.1 1275.6,482.5 1268.2,488.4 1264.0,493.5 1261.1,500.5 1259.2,503.7 1246.9,515.5 1236.7,528.5 1227.2,539.5 1219.2,546.5 1205.4,556.5 1198.9,562.5 1192.6,571.5 1190.9,575.5 1190.2,579.5 1190.7,585.5 1192.8,591.5 1196.2,595.6 1204.2,601.0 1208.2,607.1 1209.8,610.5 1214.2,625.9 1217.2,632.7 1228.2,654.0 1237.0,666.5 1240.2,669.5 1244.8,672.5 1261.2,678.8 1271.2,683.9 1283.2,691.7 1290.1,697.5 1294.6,702.5 1296.0,705.5 1295.2,708.5 1290.2,711.3 1289.6,712.5 1294.2,719.2 1295.2,719.5 1297.2,718.8 1301.7,714.5 1304.2,713.0 1307.2,712.9 1309.4,714.5 1310.1,716.5 1310.0,719.5 1303.7,757.5 1302.1,771.5 1302.4,782.5 1304.6,792.5 1306.4,796.5 1309.3,800.5 1312.2,803.1 1325.2,812.5 1329.0,816.5 1330.8,819.5 1332.2,823.9 1335.6,843.5 1347.8,883.5 1351.8,894.5 1354.7,900.5 1358.5,905.5 1366.2,912.2 1381.0,920.5 1389.2,927.4 1391.5,930.5 1392.8,933.5 1393.4,942.5 1392.8,945.5 1391.2,948.0 1388.9,949.5 1383.2,951.5 1373.2,953.0 1367.2,952.8 1362.2,951.8 1351.2,948.7 1343.2,945.4 1338.2,942.6 1327.2,934.1 1317.2,924.1 1308.8,911.5 1305.2,904.5 1302.0,896.5 1298.9,885.5 1293.6,858.5 1291.6,852.5 1289.1,847.5 1286.2,844.3 1282.2,842.4 1276.2,841.7 1265.2,842.5 1260.2,841.1 1257.2,838.7 1254.8,835.5 1252.8,831.5 1250.4,824.5 1249.0,817.5 1248.5,809.5 1249.0,800.5 1250.6,791.5 1254.8,777.5 1263.9,753.5 1267.5,746.5 1268.0,744.5 1267.4,743.5 1266.2,743.1 1261.2,742.3 1244.2,737.2 1225.2,732.6 1214.2,732.0 1205.2,733.9 1203.2,735.4 1201.9,737.5 1200.9,742.5 1198.6,766.5 1198.2,779.5 1199.5,788.5 1206.3,813.5 1208.5,828.5 1208.4,844.5 1204.9,865.5 1204.9,872.5 1205.6,878.5 1207.7,886.5 1213.6,900.5 1219.0,919.5 1222.9,930.5 1227.9,937.5 1242.2,950.3 1250.2,958.3 1263.2,974.1 1272.2,983.4 1282.2,995.2 1287.4,1000.5 1293.2,1005.1 1303.2,1012.0 1327.7,1024.5 1349.2,1042.7 1363.2,1052.9 1374.2,1060.0 1385.2,1065.9 1391.2,1068.7 1399.2,1071.6 1424.2,1077.4 1443.2,1079.5 1457.2,1079.5 1473.2,1077.8 1494.2,1074.4 1503.2,1072.3 1508.2,1070.6 1514.2,1067.6 1530.5,1056.5 1535.2,1054.7 1540.2,1053.6 1581.2,1050.1 1593.2,1050.1 1614.2,1051.1 1627.2,1049.7 1642.1,1044.8 1657.2,1038.8 1683.2,1023.8 1698.2,1014.2 1708.2,1006.1 1714.7,999.5 1721.2,991.5 1724.7,983.5 1729.2,976.5 1753.5,944.5 1762.2,934.8 1778.9,919.5 1783.2,913.8 1788.4,895.5 1794.2,878.9 1796.2,871.5 1801.3,844.5 1803.7,820.5 1803.2,809.5 1798.9,781.5 1797.7,759.5 1796.8,756.5 1791.8,748.5 1790.2,741.5 1790.7,737.5 1792.8,733.5 1796.2,729.6 1802.3,724.5 1804.4,721.5 1805.0,717.5 1803.9,712.5 1801.3,706.5 1798.4,702.5 1771.2,674.5 1742.2,635.7 1741.2,634.6 1738.1,633.5 1736.9,632.5 1737.2,630.8 1739.1,627.5 1739.2,622.5 1738.0,618.5 1735.1,613.5 1730.2,608.8 1722.2,607.4 1719.2,607.8 1717.2,608.6 1711.2,613.7 1709.2,614.2 1707.2,613.8 1705.5,612.5 1703.1,607.5 1690.3,597.5 1685.2,594.6 1676.2,591.7 1670.2,591.2 1665.2,591.9 1662.2,593.1 1654.2,597.9 1651.2,598.8 1648.8,598.5 1648.2,597.5 1648.5,592.5 1645.2,583.7 1643.0,571.5 1641.2,569.6 1637.2,568.7 1635.1,567.5 1632.9,563.5 1630.9,556.5 1631.0,551.5 1633.2,547.4 1637.2,544.5 1646.2,541.1 1648.2,538.9 1648.8,536.5 1647.5,529.5 1643.5,518.5 1638.7,508.5 1634.8,503.5 1607.0,482.5 1597.2,476.9 1578.2,467.8 1544.2,445.4 1532.2,438.5 1518.2,434.2 1488.2,430.2 1476.2,429.9Z" fill="#d7ebff"/>
<path fill-rule="evenodd" d="M1034.2,333.5 1953.2,333.5 1953.2,1252.5 1034.2,1252.5ZM1457.2,335.6 1456.2,337.2 1455.3,341.5 1454.2,344.0 1452.2,346.4 1449.2,348.6 1427.2,359.1 1409.2,369.7 1385.6,380.5 1352.2,397.0 1331.6,409.5 1317.2,414.8 1305.2,417.5 1286.2,420.2 1254.2,422.3 1221.2,419.8 1167.2,412.7 1159.2,414.3 1141.2,419.0 1137.2,420.5 1111.2,438.7 1086.7,468.5 1063.7,510.5 1049.4,546.5 1045.6,570.5 1049.1,584.5 1051.2,588.3 1065.2,597.9 1076.2,603.4 1084.2,606.4 1091.2,607.4 1102.2,604.8 1105.2,604.8 1108.2,605.7 1112.2,608.8 1116.8,614.5 1120.3,621.5 1122.5,627.5 1131.5,668.5 1134.5,685.5 1135.0,696.5 1133.3,720.5 1133.8,727.5 1135.1,731.5 1137.7,736.5 1146.6,748.5 1148.0,752.5 1148.6,756.5 1148.4,761.5 1147.3,766.5 1144.2,773.5 1140.3,779.5 1139.3,782.5 1135.8,806.5 1135.9,811.5 1138.3,827.5 1139.7,853.5 1143.1,871.5 1153.2,907.5 1156.4,921.5 1159.0,936.5 1161.2,943.3 1163.2,947.5 1167.2,953.1 1188.9,977.5 1195.2,987.8 1201.1,1000.5 1204.1,1005.5 1221.2,1025.1 1228.2,1034.6 1237.1,1048.5 1245.3,1059.5 1249.1,1065.5 1256.0,1079.5 1265.2,1092.5 1267.5,1097.5 1268.8,1102.5 1269.2,1107.5 1269.0,1113.5 1266.5,1126.5 1265.2,1128.7 1263.2,1130.4 1257.2,1132.6 1246.2,1133.8 1238.2,1133.0 1230.4,1130.5 1221.2,1125.1 1212.2,1120.9 1209.2,1120.2 1204.2,1120.6 1201.2,1119.9 1197.2,1117.0 1190.3,1109.5 1181.2,1094.9 1178.2,1092.9 1174.2,1091.7 1171.2,1091.7 1169.2,1092.6 1167.6,1094.5 1166.7,1097.5 1166.7,1101.5 1167.4,1106.5 1170.4,1118.5 1177.1,1131.5 1186.9,1144.5 1200.2,1158.5 1217.2,1174.2 1231.8,1184.5 1236.2,1187.0 1251.2,1193.6 1264.2,1196.8 1273.1,1197.6 1293.2,1196.9 1305.2,1195.6 1312.2,1193.2 1325.2,1182.3 1340.2,1172.2 1351.2,1165.8 1353.2,1164.1 1354.2,1162.1 1354.5,1159.5 1353.0,1149.5 1353.1,1143.5 1355.2,1139.4 1359.2,1137.1 1389.2,1132.7 1416.2,1127.2 1432.2,1126.0 1447.2,1123.7 1458.2,1119.9 1476.2,1108.2 1483.2,1104.8 1488.2,1103.4 1499.2,1102.3 1514.2,1103.5 1520.2,1103.3 1546.2,1097.3 1553.2,1096.1 1578.2,1096.5 1611.2,1094.4 1624.2,1091.3 1634.2,1086.6 1642.7,1080.5 1650.2,1072.5 1653.5,1067.5 1660.3,1053.5 1665.0,1047.5 1669.2,1044.2 1676.2,1039.8 1691.2,1027.5 1711.2,1007.8 1722.2,993.3 1727.2,983.8 1734.2,973.3 1758.2,943.5 1766.9,934.5 1781.2,923.8 1785.2,922.7 1786.2,923.0 1787.2,924.2 1787.2,925.5 1786.2,927.5 1778.9,937.5 1776.0,946.5 1775.2,953.5 1775.4,960.5 1776.3,963.5 1777.2,964.6 1779.2,965.6 1781.2,965.5 1784.2,964.3 1810.2,948.7 1816.1,944.5 1817.5,942.5 1818.7,939.5 1821.7,922.5 1823.7,915.5 1838.2,885.1 1841.7,874.5 1843.3,863.5 1843.1,842.5 1844.3,831.5 1848.0,816.5 1859.2,784.5 1862.4,772.5 1862.5,766.5 1861.6,760.5 1855.8,742.5 1851.2,733.4 1843.8,724.5 1825.4,711.5 1801.3,692.5 1782.0,676.5 1770.2,664.5 1760.2,652.5 1745.2,636.1 1742.4,630.5 1741.3,621.5 1740.2,618.1 1737.2,612.9 1732.2,607.4 1729.2,606.0 1721.2,604.6 1708.2,600.9 1695.2,595.6 1681.2,589.1 1666.2,584.6 1658.2,580.3 1654.2,577.1 1651.8,574.5 1650.6,571.5 1650.8,569.5 1652.2,567.5 1655.2,565.2 1662.2,562.3 1675.2,559.8 1683.2,556.8 1698.2,548.3 1702.7,544.5 1705.0,541.5 1705.9,538.5 1706.0,535.5 1704.1,527.5 1701.6,522.5 1690.3,504.5 1681.1,493.5 1658.2,473.6 1626.8,442.5 1618.0,432.5 1600.2,410.7 1593.1,403.5 1588.2,399.2 1575.2,390.8 1551.2,380.2 1528.2,371.8 1495.1,358.4 1469.2,350.1 1466.2,348.3 1464.4,346.5 1459.2,336.7 1458.2,335.7ZM1198.5,608.5 1203.2,607.8 1205.2,608.5 1206.1,609.5 1213.0,628.5 1220.2,643.3 1227.4,656.5 1236.1,668.5 1240.2,671.9 1244.2,674.4 1259.2,680.2 1266.0,683.5 1282.1,693.5 1288.2,698.5 1290.9,701.5 1292.9,705.5 1292.2,707.0 1284.2,709.8 1273.2,711.5 1268.2,712.8 1264.2,714.6 1256.7,719.5 1252.2,721.4 1249.2,721.9 1245.2,721.7 1237.2,718.9 1231.2,715.2 1221.9,705.5 1202.5,687.5 1197.4,681.5 1193.1,675.5 1185.9,662.5 1182.1,652.5 1180.5,642.5 1181.1,628.5 1182.2,623.5 1184.1,618.5 1186.3,615.5 1189.2,613.0 1194.2,610.1ZM1801.3,762.5 1802.2,761.7 1803.2,761.8 1806.2,764.7 1809.5,770.5 1814.4,781.5 1828.4,826.5 1829.6,836.5 1829.3,845.5 1828.1,857.5 1826.8,864.5 1824.9,869.5 1821.8,873.5 1817.2,877.4 1807.2,883.6 1803.2,884.9 1801.2,884.1 1800.2,882.5 1800.0,877.5 1801.6,867.5 1807.9,839.5 1809.1,827.5 1807.8,816.5 1802.2,785.3 1800.9,767.5ZM1276.9,770.5 1283.2,770.2 1285.2,770.9 1287.3,772.5 1288.9,774.5 1290.1,777.5 1290.7,784.5 1288.3,800.5 1284.6,814.5 1282.2,819.5 1279.4,823.5 1277.2,825.8 1274.2,827.0 1272.2,826.6 1268.2,823.7 1263.2,824.5 1261.2,823.7 1259.1,820.5 1258.6,815.5 1261.7,800.5 1269.0,778.5 1272.4,772.5 1274.2,771.2ZM1301.7,843.5 1308.2,844.6 1311.5,846.5 1317.2,850.8 1323.2,851.6 1326.3,854.5 1328.3,858.5 1328.4,864.5 1323.5,882.5 1321.9,891.5 1321.2,901.5 1321.3,911.5 1320.3,913.5 1319.2,914.1 1317.2,913.9 1314.4,911.5 1312.7,908.5 1311.0,903.5 1309.3,894.5 1308.4,883.5 1308.5,874.5 1309.7,860.5 1308.2,858.2 1303.4,855.5 1301.2,853.6 1298.2,849.7 1297.7,847.5 1298.2,845.3 1299.2,844.3ZM1349.9,915.5 1352.2,914.8 1355.2,915.8 1357.4,918.5 1358.9,922.5 1359.3,927.5 1358.5,931.5 1356.4,934.5 1354.2,935.5 1352.2,935.5 1350.1,934.5 1348.4,932.5 1347.3,929.5 1346.7,924.5 1346.9,920.5 1348.0,917.5Z" fill="#ffebd7"/>
<path fill-rule="evenodd" d="M1727.7,334.5 1729.0,333.5 1879.2,333.5 1879.8,334.5 1882.2,335.9 1920.1,351.7 1924.2,353.8 1950.2,385.2 1953.2,387.3 1953.2,703.1 1925.2,703.0 1916.4,701.5 1908.2,696.7 1899.2,689.6 1886.2,681.3 1871.2,674.6 1842.2,667.2 1838.2,664.8 1828.0,656.5 1821.2,652.6 1813.2,651.3 1800.2,652.1 1789.2,652.0 1785.2,651.5 1781.2,650.1 1766.2,642.9 1751.2,637.5 1748.2,635.5 1746.2,633.2 1744.9,630.5 1743.1,621.5 1741.2,616.5 1738.2,611.5 1733.2,606.0 1730.2,604.3 1719.1,601.5 1709.8,598.5 1705.5,596.5 1701.2,593.5 1688.7,582.5 1680.2,576.5 1678.3,574.5 1677.6,571.5 1679.2,569.7 1682.2,568.4 1688.2,567.1 1702.2,566.4 1719.2,567.4 1744.2,567.9 1758.2,566.4 1764.2,565.1 1771.2,562.1 1776.2,557.6 1780.2,550.5 1782.4,543.5 1783.4,532.5 1782.4,522.5 1780.7,517.5 1772.2,501.5 1769.5,497.5 1767.2,495.5 1753.2,488.1 1746.8,482.5 1743.4,477.5 1737.1,462.5 1734.5,458.5 1732.2,457.0 1729.2,456.4 1724.2,457.4 1716.2,461.2 1712.2,461.1 1709.2,459.8 1694.2,448.8 1686.2,441.6 1675.2,429.2 1672.7,425.5 1671.6,422.5 1671.1,416.5 1674.7,396.5 1677.3,355.5 1678.2,352.2 1681.2,349.6 1697.2,341.2ZM1195.9,614.5 1198.2,613.9 1201.2,614.3 1204.2,616.0 1206.2,618.0 1208.2,621.5 1215.6,638.5 1224.5,655.5 1230.4,664.5 1235.2,670.3 1243.2,676.1 1259.2,682.5 1273.9,690.5 1285.1,698.5 1287.9,701.5 1288.1,703.5 1286.2,704.4 1274.2,706.2 1267.2,708.0 1254.2,713.7 1246.2,715.7 1242.2,715.8 1238.2,715.0 1234.8,713.5 1232.1,711.5 1221.2,698.5 1210.8,688.5 1203.9,680.5 1196.8,669.5 1191.1,657.5 1187.7,644.5 1187.2,637.5 1187.4,630.5 1188.5,624.5 1190.2,620.3 1192.9,616.5ZM1034.2,622.5 1089.2,622.4 1095.2,623.1 1100.2,625.3 1104.4,629.5 1107.1,634.5 1108.1,640.5 1107.4,646.5 1104.8,652.5 1099.6,659.5 1087.2,672.6 1080.8,681.5 1074.4,693.5 1070.2,704.9 1061.5,737.5 1059.2,754.5 1059.1,763.5 1059.8,772.5 1064.7,804.5 1065.6,814.5 1064.0,839.5 1062.4,850.5 1058.6,864.5 1056.8,868.5 1054.5,871.5 1052.2,873.3 1049.2,874.4 1038.2,875.5 1034.2,875.5ZM1929.4,759.5 1936.2,759.4 1940.2,760.2 1943.2,761.4 1945.6,763.5 1946.8,765.5 1947.2,767.5 1946.6,769.5 1944.2,771.5 1939.2,772.5 1931.2,772.2 1926.4,770.5 1923.1,767.5 1922.2,765.5 1922.3,763.5 1924.2,761.3ZM1951.0,807.5 1953.2,807.2 1953.2,1067.3 1951.2,1069.1 1945.0,1081.5 1942.5,1085.5 1908.8,1124.5 1903.0,1129.5 1857.2,1160.9 1818.2,1183.8 1790.2,1194.6 1783.2,1194.9 1772.2,1194.2 1769.2,1191.5 1757.0,1172.5 1747.2,1160.2 1712.1,1132.5 1698.2,1118.8 1690.8,1109.5 1687.5,1103.5 1685.0,1096.5 1676.6,1062.5 1676.4,1055.5 1677.8,1045.5 1678.7,1042.5 1681.2,1039.3 1694.2,1028.6 1711.4,1011.5 1721.5,998.5 1729.2,985.2 1736.2,974.6 1740.4,970.5 1745.2,968.4 1749.2,968.4 1753.2,970.2 1755.3,972.5 1756.6,976.5 1755.8,982.5 1747.1,1010.5 1745.9,1017.5 1744.7,1030.5 1744.0,1040.5 1744.5,1045.5 1746.6,1050.5 1750.2,1053.8 1753.2,1054.9 1755.2,1054.6 1762.2,1051.5 1768.2,1048.1 1773.2,1044.3 1788.2,1030.1 1808.2,1017.6 1819.2,1009.4 1823.2,1004.9 1828.5,995.5 1836.2,984.5 1842.1,974.5 1846.3,968.5 1858.2,957.2 1875.9,943.5 1879.8,939.5 1882.4,935.5 1887.6,924.5 1902.9,886.5 1911.7,869.5 1913.4,863.5 1915.5,848.5 1918.0,837.5 1921.1,829.5 1925.4,821.5 1929.1,816.9 1934.2,813.2 1941.2,810.1ZM1704.2,1172.5 1706.2,1171.9 1708.2,1172.0 1711.2,1173.0 1713.5,1174.5 1715.6,1176.5 1716.5,1178.5 1715.6,1181.5 1714.2,1182.7 1712.2,1183.2 1710.2,1183.0 1708.2,1182.0 1705.6,1179.5 1703.8,1176.5 1703.3,1174.5ZM1594.3,1214.5 1597.2,1214.1 1602.2,1214.7 1608.2,1217.0 1610.2,1218.7 1611.2,1220.5 1611.4,1222.5 1610.6,1224.5 1608.0,1227.5 1604.2,1229.8 1600.2,1229.9 1597.2,1228.5 1593.3,1224.5 1591.0,1219.5 1591.5,1216.5Z" fill="#ffcdb4"/>
<path fill-rule="evenodd" d="M1698.9,577.5 1701.2,577.3 1716.2,579.3 1743.2,580.6 1751.2,582.4 1757.2,585.4 1760.5,588.5 1763.5,592.5 1765.5,596.5 1766.7,601.5 1766.8,606.5 1766.0,611.5 1764.2,616.5 1761.5,621.5 1758.8,624.5 1755.2,626.6 1751.2,626.9 1748.2,625.7 1746.2,623.3 1740.7,611.5 1735.2,605.1 1732.2,602.7 1712.2,590.8 1704.3,585.5 1698.9,580.5 1698.2,578.5ZM1076.5,628.5 1089.2,628.1 1093.2,629.4 1096.2,631.7 1098.8,635.5 1099.9,639.5 1099.6,644.5 1097.6,649.5 1092.9,656.5 1087.2,663.0 1079.2,670.9 1071.2,677.4 1066.8,679.5 1058.2,682.1 1052.2,682.8 1048.2,681.7 1045.9,679.5 1044.2,675.5 1043.5,665.5 1045.1,651.5 1048.6,640.5 1052.2,635.0 1057.2,631.2 1060.2,630.3ZM1197.1,631.5 1199.2,630.9 1202.2,632.4 1207.7,638.5 1212.7,645.5 1231.2,676.1 1249.4,702.5 1250.2,704.5 1250.2,706.5 1248.2,708.9 1245.2,710.1 1241.2,710.1 1238.2,709.2 1235.7,707.5 1226.4,694.5 1210.9,677.5 1204.8,669.5 1199.6,660.5 1195.8,649.5 1195.0,643.5 1194.9,638.5 1195.8,633.5ZM1734.9,997.5 1737.2,997.7 1738.1,998.5 1738.7,1000.5 1738.2,1003.5 1735.2,1010.5 1729.3,1018.5 1719.2,1029.1 1713.2,1034.2 1704.2,1039.4 1701.2,1040.2 1699.2,1039.9 1698.2,1038.5 1698.3,1037.5 1699.7,1034.5 1705.9,1025.5 1719.2,1008.2 1726.5,1001.5 1731.2,998.8Z" fill="#ffaa82"/>
<path fill-rule="evenodd" d="M1742.8,591.5 1746.2,590.7 1751.1,592.5 1754.4,595.5 1757.1,600.5 1757.9,605.5 1756.8,611.5 1754.2,616.5 1751.2,618.6 1749.2,618.2 1747.7,616.5 1742.7,602.5 1741.3,595.5 1741.5,593.5ZM1068.7,635.5 1081.2,635.0 1084.2,635.5 1087.2,636.9 1089.5,639.5 1090.6,642.5 1090.7,645.5 1089.5,649.5 1086.8,653.5 1083.2,657.3 1073.2,664.7 1067.8,667.5 1063.2,669.0 1056.2,670.6 1053.2,670.1 1050.5,667.5 1049.5,662.5 1050.7,652.5 1052.9,645.5 1056.0,640.5 1059.2,637.9 1063.2,636.4ZM1200.9,645.5 1202.2,644.7 1203.2,644.8 1205.7,646.5 1218.2,660.6 1228.5,677.5 1241.2,696.5 1244.1,702.5 1244.3,704.5 1243.5,705.5 1241.2,705.2 1238.4,702.5 1227.3,684.5 1217.2,676.5 1207.6,665.5 1204.4,660.5 1202.7,656.5 1200.7,649.5Z" fill="#ff7841"/>
<path fill-rule="evenodd" d="M1068.8,641.5 1076.2,641.0 1080.2,642.2 1082.8,645.5 1083.1,647.5 1082.5,650.5 1079.6,654.5 1075.2,657.6 1066.2,660.2 1062.2,660.4 1060.2,659.8 1058.6,658.5 1057.7,655.5 1058.2,651.5 1059.6,647.5 1061.2,645.2 1063.2,643.5ZM1207.1,657.5 1208.2,656.7 1210.2,657.1 1215.2,661.6 1219.2,666.9 1221.8,671.5 1222.8,674.5 1222.3,675.5 1221.2,675.5 1219.2,674.2 1212.2,666.6 1207.9,660.5Z" fill="#ff501e"/>
<g fill="none" stroke="#000" stroke-width="3.3" stroke-linejoin="round" stroke-linecap="round"><path d="M1210.2 608.0L1209.6 619.6L1213.2 631.8L1214.7 641.0L1220.2 650.1L1226.3 657.7L1230.9 659.3L1229.4 663.8L1235.5 668.4L1241.6 674.5L1246.1 676.0L1250.7 674.5L1255.3 672.1L1259.9 671.5L1269.0 673.9L1278.2 676.0L1287.3 677.6L1293.4 682.1L1299.5 685.2L1307.1 686.1L1311.7 691.3L1317.8 694.3L1325.4 700.4L1330.0 708.0L1336.1 711.1L1339.1 718.7L1343.7 727.9L1349.8 717.2L1357.4 709.6L1369.6 705.0L1381.8 701.3L1394.0 695.9L1403.2 688.2L1407.7 680.6L1406.2 668.4L1409.2 656.2L1412.3 641.0L1414.7 631.8L1416.9 622.7L1416.9 616.6L1421.4 607.4L1427.5 598.3L1433.6 589.1L1441.3 583.0L1447.4 577.0L1448.9 570.9L1445.8 564.8L1451.9 561.7L1456.5 566.3L1459.6 558.7L1464.1 554.1L1468.7 555.6L1470.2 560.2L1479.4 558.7L1480.9 549.5L1482.4 545.9L1487.0 548.0L1490.0 557.1L1494.6 560.2L1503.8 554.1L1511.4 548.9L1519.0 547.1L1523.9 544.9L1533.0 546.5L1548.3 548.9L1560.5 552.6L1572.7 558.0L1584.9 564.8L1592.5 567.8L1600.1 569.3L1609.2 571.5L1621.4 573.0L1633.6 576.3L1638.2 570.9L1644.3 569.3L1645.8 580.0L1648.3 589.1L1651.9 593.7L1648.9 597.7L1655.0 595.9L1661.1 590.7L1670.2 589.1L1679.4 589.8L1688.5 593.7L1696.1 599.8L1702.2 605.0L1706.8 605.9L1706.2 612.0L1709.9 612.9L1714.4 607.4L1720.5 604.4L1731.2 605.9L1737.3 612.0L1741.0 619.6L1741.9 628.8L1737.3 631.8L1743.4 631.8L1740.3 637.9L1737.9 647.1L1741.9 653.2L1743.4 662.3L1748.0 671.5L1751.0 683.7L1755.6 693.4L1746.4 698.9L1738.8 703.5L1732.7 705.0L1726.6 709.6L1724.5 712.6L1729.7 714.8L1737.3 720.2L1738.8 727.9L1746.4 734.0L1754.1 737.0L1760.2 740.1L1767.8 747.7L1775.4 755.3L1781.5 769.0L1784.6 770.0L1786.7 782.2L1788.5 794.4L1788.5 806.6L1786.7 818.8L1785.5 831.0L1784.6 843.2L1788.5 852.3L1789.1 859.9L1784.6 869.1L1778.5 876.7L1772.4 882.8L1767.8 887.4L1770.8 893.5L1773.3 899.6L1773.3 908.7L1771.4 914.8L1764.7 917.9L1757.1 922.4L1751.0 928.5L1745.8 936.2L1742.8 945.3L1741.9 951.4L1735.8 952.9L1734.2 960.5L1730.6 965.1L1730.6 971.2L1722.1 971.8L1714.4 974.3L1717.5 980.4L1721.4 983.4L1720.5 989.5L1715.3 995.6L1709.9 1001.7L1703.8 1006.3L1694.6 1009.3L1688.5 1013.9L1679.4 1018.5L1673.3 1022.4L1668.7 1021.5L1664.1 1026.1L1658.0 1021.5L1651.9 1024.6L1644.3 1021.5L1636.7 1023.0L1627.5 1027.6L1619.9 1029.1L1612.3 1032.8L1606.2 1030.7L1598.6 1029.1L1598.6 1033.7L1587.9 1034.3L1575.7 1032.2L1572.1 1024.6L1569.0 1019.4L1566.6 1026.1L1565.0 1031.6L1562.0 1026.1L1552.8 1029.1L1543.7 1025.5L1534.6 1023.0L1531.5 1018.5L1528.5 1013.9L1530.0 1006.3L1534.6 1000.2L1539.1 997.1L1540.7 988.0L1543.7 983.4L1544.6 977.3L1547.7 969.7L1545.8 962.1L1542.2 952.9L1537.6 943.8L1534.6 937.1L1528.5 933.1L1526.9 930.1L1534.6 927.9L1538.5 922.4L1539.1 917.9L1536.1 910.2L1532.4 901.1L1526.9 892.0L1520.8 884.3L1513.2 876.7L1505.6 873.0L1498.0 870.6L1491.9 864.5L1485.8 858.4L1478.2 852.3L1476.3 850.8L1468.7 843.2L1462.6 840.1L1459.6 844.7L1459.6 855.4L1456.5 864.5L1451.9 875.2L1447.4 884.3L1442.8 888.9L1436.7 887.4L1427.5 886.8L1429.1 895.0L1432.1 905.7L1435.2 916.3L1438.2 924.0L1430.6 924.0L1432.1 928.5L1435.2 933.1L1435.2 939.2L1430.6 941.3L1426.0 937.7L1423.9 931.6L1424.5 925.5L1418.4 921.8L1409.2 922.4L1402.5 927.0L1398.6 933.1L1397.7 939.2L1387.9 936.2L1380.3 930.1L1369.6 928.5L1360.5 927.0L1355.9 922.4L1354.4 913.3L1355.0 904.1L1354.4 898.0L1345.2 901.1L1336.1 903.5L1326.9 902.6L1320.8 904.1L1317.8 907.2L1315.3 901.1L1319.3 896.5L1320.2 892.0L1314.7 890.4L1311.7 884.3L1317.8 881.3L1323.9 878.2L1326.3 872.1L1323.9 866.0L1317.8 864.5L1310.2 867.6L1304.1 867.6L1305.6 863.0L1311.7 859.9L1314.7 855.4L1313.2 851.7L1305.6 852.3L1304.1 856.9L1308.6 858.4L1314.7 846.2L1310.2 840.1L1307.1 834.0L1308.0 826.4L1305.6 824.3L1301.0 826.4L1296.4 829.5L1290.3 831.0L1284.2 835.5L1281.2 838.6L1279.7 832.5L1282.7 827.9L1284.2 823.4L1290.3 818.8L1287.3 815.7L1281.2 815.7L1276.6 820.3L1272.1 826.4L1270.5 834.0L1267.5 831.0L1269.0 824.9L1267.5 818.8L1272.1 815.7L1275.1 809.6L1276.6 800.5L1278.8 791.3L1280.6 782.2L1281.8 774.6L1280.6 772.1L1282.7 759.9L1287.3 750.7L1281.2 747.7L1278.2 746.2L1282.7 740.1L1287.3 735.5L1294.9 737.0L1296.4 726.3L1295.8 715.7L1290.3 708.0L1281.2 703.5L1272.1 700.4L1262.9 698.9L1253.8 698.3L1255.3 692.8L1252.2 688.2L1241.6 683.7L1235.5 685.2L1232.4 692.8L1226.3 691.3L1223.3 683.7L1227.8 679.1L1223.3 673.0L1218.7 665.4L1214.1 659.3L1209.6 653.2L1205.0 650.1L1203.5 644.0L1208.0 641.0L1206.5 631.8L1207.4 622.7L1208.0 613.5Z"/><path d="M1243.1 703.5L1247.7 708.0L1266.0 707.4L1278.2 709.6L1287.3 714.8L1288.8 723.3L1281.2 729.4L1269.0 737.0L1264.4 735.5L1269.0 723.3L1262.9 714.1L1247.7 711.1L1243.1 703.5"/><path d="M1248.3 723.3L1255.3 721.8L1258.3 727.9L1256.8 734.0L1250.7 732.4L1248.3 723.3"/><path d="M1192.8 602.0L1195.2 610.5L1194.3 624.2L1190.3 625.1L1189.7 613.5L1190.7 605.9L1192.8 602.0Z" fill="#000"/><path d="M1210.5 599.8L1218.7 598.9L1217.8 605.9L1211.1 606.8L1210.5 599.8"/><path d="M1221.7 530.6L1231.8 528.2L1230.0 533.7L1224.8 536.7L1221.7 530.6Z" fill="#000"/><path d="M1450.4 908.7L1455.0 906.6L1458.0 911.8L1455.0 922.4L1451.3 927.0L1448.3 922.4L1448.9 913.3L1450.4 908.7"/><path d="M1520.8 946.2L1526.9 941.3L1531.5 942.3L1530.6 949.3L1520.8 946.2"/><path d="M1399.5 936.2L1406.2 934.0L1409.2 937.1L1403.2 939.2L1399.5 936.2"/></g>
</g><circle cx="1493.00" cy="792.15" r="447.6" fill="none" stroke="#000" stroke-width="2.7"/>
<g clip-path="url(#clip2)"><circle cx="994.10" cy="2237.60" r="449.6" fill="#00008b"/>
<path fill-rule="evenodd" d="M535.2,1778.9 1454.2,1778.9 1454.2,2697.9 535.2,2697.9Z" fill="#0019b4"/>
<path fill-rule="evenodd" d="M535.2,1778.9 1454.2,1778.9 1454.2,2697.9 535.2,2697.9Z" fill="#0032dc"/>
<path fill-rule="evenodd" d="M535.2,1778.9 1454.2,1778.9 1454.2,2697.9 535.2,2697.9Z" fill="#1e50ff"/>
<path fill-rule="evenodd" d="M535.2,1778.9 1454.2,1778.9 1454.2,2697.9 535.2,2697.9Z" fill="#4178ff"/>
<path fill-rule="evenodd" d="M535.2,1778.9 1454.2,1778.9 1454.2,2697.9 535.2,2697.9Z" fill="#82aaff"/>
<path fill-rule="evenodd" d="M535.2,1778.9 1454.2,1778.9 1454.2,2697.9 535.2,2697.9Z" fill="#b4cdff"/>
<path fill-rule="evenodd" d="M535.2,1778.9 1454.2,1778.9 1454.2,2697.9 535.2,2697.9Z" fill="#d7ebff"/>
<path fill-rule="evenodd" d="M535.2,1778.9 1454.2,1778.9 1454.2,2697.9 535.2,2697.9ZM595.2,2035.7 591.2,2037.4 586.8,2040.9 582.9,2045.9 579.8,2051.9 577.1,2059.9 576.5,2064.9 577.6,2068.9 580.2,2070.9 583.2,2071.4 588.2,2071.1 597.2,2068.5 604.2,2064.4 606.7,2061.9 608.5,2058.9 609.2,2055.9 609.0,2051.9 607.6,2046.9 605.2,2042.0 601.2,2036.9 598.2,2035.6Z" fill="#ffebd7"/>
<path fill-rule="evenodd" d="M535.2,1778.9 1454.2,1778.9 1454.2,2697.9 535.2,2697.9ZM543.2,2232.9 541.5,2236.9 540.5,2246.9 540.1,2270.9 540.7,2282.9 541.7,2289.9 543.2,2295.4 545.2,2298.3 548.2,2299.2 551.2,2298.1 553.2,2296.4 554.9,2293.9 556.4,2289.9 558.3,2276.9 558.2,2263.9 555.9,2250.9 551.9,2239.9 549.7,2235.9 547.2,2233.2 545.2,2232.3ZM617.2,2004.9 611.2,2005.8 606.2,2007.6 599.8,2010.9 594.4,2014.9 589.2,2020.1 579.9,2031.9 569.2,2048.0 565.2,2057.9 564.7,2062.9 565.5,2066.9 568.3,2070.9 580.2,2078.7 586.2,2080.2 597.2,2079.3 605.1,2076.9 613.0,2072.9 621.1,2065.9 632.3,2053.9 640.0,2043.9 645.2,2034.8 647.5,2028.9 648.3,2022.9 647.1,2017.9 644.2,2014.0 638.2,2009.7 630.2,2006.2 625.2,2005.0ZM716.2,2043.8 711.2,2046.1 709.7,2047.9 709.0,2049.9 709.2,2055.9 711.2,2064.9 714.2,2074.0 719.2,2083.6 724.2,2088.7 726.2,2089.7 728.2,2089.9 730.4,2088.9 733.3,2085.9 736.6,2077.9 738.1,2067.9 737.1,2057.9 733.7,2050.9 729.2,2046.8 722.2,2043.8ZM1021.2,2039.8 1009.2,2041.3 996.2,2044.6 978.2,2050.6 967.2,2055.6 961.6,2059.9 957.2,2065.0 953.8,2070.9 949.5,2080.9 945.5,2086.9 938.2,2091.7 935.5,2095.9 933.6,2097.9 923.2,2101.9 920.7,2103.9 919.4,2105.9 918.3,2109.9 919.0,2114.9 922.2,2122.9 925.4,2134.9 929.4,2143.9 931.7,2145.9 944.2,2151.9 953.2,2157.6 963.6,2166.9 969.4,2174.9 970.1,2176.9 970.0,2178.9 967.3,2183.9 972.7,2194.9 974.2,2204.9 973.6,2216.9 971.5,2228.9 967.9,2238.9 966.2,2241.4 964.2,2242.3 953.2,2238.7 940.2,2235.7 928.2,2234.0 919.2,2233.5 905.2,2233.4 892.2,2234.1 880.4,2235.9 875.2,2237.4 872.2,2238.9 870.8,2240.9 871.1,2242.9 871.9,2243.9 881.2,2248.9 881.1,2249.9 880.0,2250.9 874.2,2255.2 871.9,2259.9 871.5,2268.9 874.7,2291.9 874.5,2302.9 872.2,2312.4 870.2,2316.5 864.2,2326.0 862.8,2329.9 862.6,2332.9 863.6,2336.9 866.2,2341.0 879.5,2354.9 887.9,2362.9 895.4,2367.9 906.2,2370.5 912.2,2373.9 923.2,2383.4 937.2,2397.1 944.2,2402.6 949.2,2405.5 963.2,2412.0 974.2,2414.7 990.2,2416.5 1000.2,2416.5 1006.2,2415.5 1009.2,2415.7 1025.2,2417.9 1031.2,2419.5 1035.2,2421.8 1039.9,2425.9 1042.7,2430.9 1048.2,2450.9 1050.6,2456.9 1053.5,2459.9 1057.2,2460.6 1061.2,2458.8 1068.2,2450.4 1071.2,2448.4 1073.2,2448.3 1075.2,2449.0 1084.2,2455.7 1086.2,2456.2 1089.2,2456.1 1093.2,2453.9 1099.2,2445.9 1103.2,2442.8 1108.2,2441.5 1126.2,2439.5 1132.2,2438.3 1150.2,2432.0 1157.3,2427.9 1167.5,2416.9 1186.0,2390.9 1203.0,2372.9 1220.2,2343.9 1233.5,2325.9 1247.2,2309.9 1250.4,2303.9 1251.3,2298.9 1250.6,2295.9 1247.7,2289.9 1246.0,2284.9 1241.6,2261.9 1239.7,2254.9 1225.9,2225.9 1222.8,2217.9 1216.8,2187.9 1214.5,2178.9 1212.7,2175.9 1210.3,2173.9 1199.2,2170.4 1197.6,2168.9 1197.3,2167.9 1198.4,2164.9 1206.3,2155.9 1209.2,2151.7 1211.5,2145.9 1212.8,2138.9 1213.3,2130.9 1212.3,2123.9 1209.2,2116.7 1204.4,2109.9 1196.2,2102.8 1187.2,2097.9 1178.2,2093.8 1160.2,2087.0 1147.2,2079.7 1136.2,2074.6 1132.2,2073.4 1126.2,2072.5 1109.2,2073.3 1101.2,2071.7 1097.2,2070.2 1093.3,2067.9 1078.2,2054.6 1072.2,2050.6 1068.2,2048.7 1038.2,2039.7 1028.2,2039.4ZM984.9,2245.9 986.2,2245.9 988.2,2246.7 990.7,2249.9 992.7,2255.9 993.5,2263.9 992.8,2270.9 990.3,2278.9 987.9,2282.9 985.2,2284.3 982.2,2282.9 979.9,2278.9 978.2,2271.9 977.7,2263.9 978.1,2256.9 979.5,2250.9 981.5,2247.9Z" fill="#ffcdb4"/>
<path fill-rule="evenodd" d="M535.2,1778.9 1454.2,1778.9 1454.2,2697.9 1028.6,2697.9 1028.4,2690.9 1026.8,2683.9 1023.9,2678.9 1019.2,2675.2 1011.2,2671.6 1002.2,2668.7 987.2,2665.2 969.2,2662.5 962.2,2663.5 957.3,2665.6 951.0,2669.9 947.0,2674.9 945.1,2680.9 945.0,2686.9 946.2,2692.9 949.0,2697.9 535.2,2697.9 535.2,2392.1 537.3,2393.9 551.0,2420.9 564.9,2443.9 577.0,2458.9 587.2,2466.1 591.2,2467.0 602.2,2466.7 607.2,2465.8 611.4,2463.9 613.0,2461.9 616.1,2455.9 622.2,2448.3 624.3,2444.9 626.3,2438.9 627.0,2432.9 626.0,2421.9 623.5,2413.9 619.3,2408.9 610.0,2401.9 607.9,2398.9 606.4,2394.9 605.5,2387.9 606.0,2371.9 605.7,2359.9 605.1,2354.9 603.9,2350.9 601.8,2346.9 599.5,2343.9 587.5,2331.9 584.9,2326.9 584.8,2321.9 587.6,2311.9 588.2,2307.9 588.0,2302.9 586.6,2293.9 586.6,2288.9 587.7,2282.9 590.0,2274.9 590.9,2268.9 590.5,2260.9 588.7,2252.9 585.6,2243.9 580.7,2233.9 572.7,2220.9 564.2,2208.8 561.6,2203.9 559.7,2196.9 559.0,2181.9 558.2,2177.0 555.6,2170.9 554.0,2168.9 552.2,2167.9 551.2,2167.9 549.8,2168.9 546.4,2175.9 540.9,2195.9 537.2,2212.6 536.2,2215.7 535.2,2217.0ZM624.2,1987.9 615.2,1988.3 591.2,1988.0 588.2,1988.5 579.2,1993.9 571.8,2002.9 568.9,2007.9 561.6,2023.9 554.9,2043.9 551.7,2057.9 550.8,2063.9 551.0,2073.9 552.7,2077.9 555.2,2081.0 558.2,2082.4 563.2,2083.6 576.2,2085.0 595.2,2083.7 605.2,2081.4 612.2,2078.1 618.2,2074.3 648.2,2050.5 660.2,2041.7 668.2,2038.5 676.2,2036.5 689.2,2036.0 693.2,2036.5 696.2,2037.5 699.2,2039.7 701.1,2041.9 704.3,2048.9 708.8,2067.9 713.9,2079.9 719.4,2087.9 732.2,2099.0 735.2,2100.8 738.2,2100.8 744.2,2094.6 755.6,2090.9 758.2,2089.5 759.9,2087.9 760.8,2085.9 761.0,2083.9 760.6,2066.9 759.4,2058.9 758.0,2054.9 755.9,2050.9 752.4,2047.0 748.2,2043.4 740.0,2038.9 731.2,2035.7 704.2,2029.3 680.2,2021.2 676.2,2018.8 671.7,2014.9 657.9,1997.9 651.2,1992.4 646.2,1990.3 638.2,1988.6 632.2,1988.0ZM832.2,2637.7 827.2,2639.3 824.2,2641.2 822.4,2643.9 821.8,2646.9 823.1,2651.9 825.9,2656.9 829.1,2660.9 834.3,2665.9 850.2,2677.4 860.2,2682.7 866.2,2685.0 872.2,2686.4 878.2,2686.3 882.2,2684.7 885.6,2681.9 888.7,2676.9 890.4,2671.9 890.2,2668.9 888.2,2665.8 874.9,2657.9 856.7,2643.9 852.2,2641.2 846.2,2638.6 841.2,2637.4 837.2,2637.1ZM997.2,2027.9 970.9,2030.9 958.2,2034.9 955.2,2036.9 953.2,2039.4 951.2,2043.5 944.8,2067.9 942.1,2073.9 938.2,2078.9 933.2,2083.9 923.2,2091.2 916.2,2095.5 912.5,2098.9 910.1,2102.9 904.6,2116.9 901.4,2122.9 882.1,2146.9 878.4,2152.9 876.9,2157.9 877.3,2163.9 879.8,2171.9 886.3,2184.9 887.6,2191.9 887.3,2197.9 886.2,2203.9 881.6,2217.9 878.2,2223.8 874.2,2226.7 869.2,2228.4 848.2,2232.7 845.2,2234.1 844.2,2235.2 843.7,2236.9 844.4,2239.9 850.8,2252.9 855.3,2263.9 857.8,2271.9 859.4,2280.9 859.7,2288.9 858.9,2297.9 853.5,2324.9 853.6,2328.9 854.5,2331.9 859.2,2339.9 866.6,2349.9 876.6,2360.9 885.2,2368.9 898.2,2377.7 914.2,2385.7 922.2,2390.5 926.2,2393.9 933.2,2401.8 940.2,2408.2 952.2,2417.1 965.2,2425.6 974.2,2429.5 984.2,2432.6 989.7,2432.9 991.6,2430.9 995.2,2430.4 1002.2,2431.4 1010.2,2433.8 1014.2,2433.0 1022.3,2428.9 1026.2,2427.5 1032.2,2426.7 1036.2,2427.8 1038.5,2429.9 1039.9,2433.9 1039.6,2436.9 1037.0,2445.9 1037.2,2449.9 1038.3,2453.9 1040.2,2457.4 1043.2,2460.3 1047.3,2462.9 1052.2,2465.2 1055.2,2465.9 1058.2,2465.7 1066.2,2462.8 1070.2,2462.1 1073.2,2462.4 1086.2,2465.7 1093.2,2465.9 1098.2,2464.3 1105.2,2459.6 1108.2,2458.4 1123.2,2456.5 1141.2,2452.6 1155.2,2452.4 1162.2,2450.6 1166.2,2448.5 1171.2,2444.5 1176.2,2439.6 1180.0,2434.9 1184.4,2426.9 1191.0,2407.9 1196.0,2398.9 1212.7,2375.9 1227.0,2353.9 1251.9,2320.9 1263.2,2308.4 1265.2,2303.9 1265.2,2300.9 1263.2,2289.9 1259.7,2256.9 1256.4,2241.9 1251.5,2227.9 1242.7,2205.9 1239.5,2199.9 1233.1,2189.9 1230.9,2184.9 1229.8,2180.9 1229.4,2175.9 1230.4,2164.9 1229.6,2160.9 1227.1,2153.9 1226.7,2150.9 1227.0,2146.9 1230.7,2129.9 1230.5,2123.9 1228.8,2117.9 1225.6,2111.9 1220.9,2105.9 1211.2,2096.9 1206.2,2093.3 1169.2,2076.9 1148.2,2069.0 1132.2,2061.6 1120.2,2058.3 1104.2,2057.1 1098.2,2055.6 1089.2,2050.8 1073.2,2039.5 1068.2,2037.1 1063.2,2035.4 1044.2,2033.1 1030.2,2032.3 1006.2,2028.7ZM1095.2,1794.9 1092.2,1796.2 1090.1,1797.9 1089.0,1799.9 1088.9,1802.9 1091.6,1807.9 1098.7,1814.9 1105.2,1819.5 1111.2,1820.9 1116.2,1819.8 1121.3,1815.9 1123.3,1811.9 1123.3,1807.9 1121.4,1803.9 1118.4,1800.9 1113.2,1797.9 1105.2,1795.0 1100.2,1794.4ZM1152.2,1826.9 1152.1,1827.9 1154.2,1830.9 1165.2,1841.0 1168.5,1844.9 1178.3,1861.9 1185.5,1877.9 1188.8,1883.9 1191.2,1886.2 1193.2,1886.9 1195.2,1886.7 1197.2,1885.5 1199.1,1882.9 1200.2,1878.9 1200.5,1872.9 1200.1,1865.9 1197.4,1851.9 1195.6,1846.9 1193.2,1842.9 1190.2,1839.8 1186.2,1837.5 1166.2,1833.0ZM1279.2,1889.9 1276.2,1890.7 1275.3,1891.9 1275.8,1894.9 1292.2,1911.6 1297.2,1915.2 1302.2,1917.2 1305.2,1917.4 1307.9,1915.9 1309.3,1912.9 1308.6,1908.9 1306.2,1905.3 1302.0,1900.9 1295.2,1895.5 1289.2,1891.9 1284.2,1890.3ZM1336.2,1952.7 1335.5,1953.9 1335.7,1954.9 1340.3,1963.9 1343.6,1971.9 1346.5,1981.9 1349.3,1994.9 1351.9,2002.0 1370.2,2033.7 1374.2,2039.4 1383.5,2049.9 1387.7,2057.9 1389.1,2063.9 1389.5,2069.9 1389.2,2077.9 1387.7,2088.9 1387.9,2093.9 1389.5,2098.9 1394.5,2108.9 1396.8,2115.9 1398.0,2124.9 1397.9,2136.9 1399.0,2142.9 1402.2,2149.7 1404.3,2151.1 1406.2,2151.0 1409.0,2147.9 1411.2,2141.9 1411.5,2136.9 1409.9,2127.9 1410.1,2122.9 1414.7,2107.9 1416.5,2097.9 1416.3,2090.9 1415.1,2081.9 1413.4,2073.9 1410.4,2063.9 1403.6,2046.9 1395.5,2029.9 1384.8,2009.9 1371.3,1988.0 1362.2,1975.5 1351.2,1963.1 1340.2,1954.2 1338.2,1953.0ZM675.2,2494.5 673.9,2495.9 673.5,2497.9 674.5,2507.9 678.2,2523.9 683.2,2539.9 685.8,2543.9 689.2,2546.4 693.2,2546.8 697.2,2545.7 701.2,2542.6 703.0,2537.9 702.5,2532.9 699.2,2523.2 694.9,2514.9 687.2,2504.1 679.2,2495.5 677.2,2494.4ZM1082.2,2657.9 1078.2,2658.9 1075.2,2660.5 1072.2,2663.7 1070.7,2666.9 1069.6,2672.9 1069.7,2677.9 1071.2,2680.7 1074.2,2682.6 1080.2,2683.9 1088.2,2684.0 1107.1,2681.9 1114.2,2680.4 1119.2,2678.3 1122.6,2675.9 1124.5,2672.9 1124.7,2669.9 1123.7,2666.9 1121.2,2664.2 1118.2,2662.8 1104.2,2660.7 1093.2,2657.9 1087.2,2657.4ZM1344.2,2517.8 1340.2,2519.3 1336.2,2522.3 1331.2,2527.2 1316.2,2544.1 1310.2,2549.8 1306.2,2552.8 1275.2,2567.0 1259.2,2572.8 1251.3,2576.9 1247.2,2579.9 1242.2,2586.0 1240.4,2589.9 1239.2,2593.9 1238.8,2601.9 1239.4,2603.9 1241.2,2606.7 1245.2,2609.8 1249.2,2611.6 1262.3,2615.1 1267.2,2615.6 1279.2,2611.8 1293.2,2601.6 1310.3,2583.9 1327.2,2561.8 1340.3,2542.9 1347.2,2530.9 1349.4,2523.9 1349.2,2521.1 1348.2,2519.4 1346.2,2518.1Z" fill="#ffaa82"/>
<path fill-rule="evenodd" d="M1031.2,1868.9 1034.3,1868.0 1038.5,1869.9 1049.1,1881.9 1051.7,1885.9 1053.4,1890.9 1056.1,1903.9 1062.9,1920.9 1066.5,1937.9 1068.1,1940.9 1070.0,1943.0 1078.2,1948.4 1094.2,1956.2 1098.3,1959.9 1104.2,1968.6 1109.9,1973.9 1120.2,1981.1 1149.2,1999.2 1163.2,2006.5 1200.8,2019.9 1240.2,2036.7 1246.2,2040.2 1250.2,2044.2 1255.1,2050.9 1262.0,2065.9 1268.8,2077.9 1278.2,2090.7 1286.2,2099.9 1305.2,2118.5 1311.2,2121.9 1320.2,2125.0 1325.2,2129.3 1330.7,2137.9 1336.5,2152.9 1341.7,2171.9 1345.4,2191.9 1346.7,2202.9 1346.7,2208.9 1345.5,2215.9 1341.1,2231.9 1340.6,2236.9 1341.3,2240.9 1342.9,2243.9 1345.4,2246.9 1353.2,2252.5 1360.2,2255.0 1370.2,2256.2 1374.2,2257.8 1377.8,2261.9 1381.5,2269.9 1381.4,2273.9 1379.3,2280.9 1378.7,2284.9 1379.5,2304.9 1379.0,2310.9 1376.5,2317.9 1370.2,2327.1 1365.2,2332.3 1361.2,2335.5 1356.2,2338.2 1352.2,2339.3 1346.2,2338.5 1333.2,2332.6 1326.2,2330.9 1322.2,2330.9 1318.2,2331.5 1315.2,2332.7 1312.3,2334.9 1308.8,2339.9 1301.5,2355.9 1296.2,2362.4 1290.2,2366.5 1274.2,2372.3 1271.2,2374.2 1268.8,2376.9 1266.6,2381.9 1263.9,2397.9 1261.5,2404.9 1257.9,2410.9 1245.2,2428.9 1235.5,2448.9 1229.2,2458.9 1222.3,2466.9 1212.2,2476.5 1202.2,2484.1 1194.2,2488.1 1188.2,2488.7 1181.2,2487.0 1178.5,2484.9 1178.8,2481.9 1183.1,2474.9 1188.9,2467.9 1195.2,2462.1 1207.2,2454.2 1212.2,2448.7 1218.4,2439.9 1220.3,2434.9 1220.2,2426.9 1222.3,2421.9 1222.0,2420.9 1219.1,2418.9 1217.6,2416.9 1217.4,2413.9 1218.8,2410.9 1223.2,2406.1 1229.2,2401.2 1234.2,2398.1 1240.2,2396.0 1241.2,2395.0 1245.5,2384.9 1249.8,2377.9 1256.2,2371.3 1266.0,2362.9 1268.6,2359.9 1270.6,2354.9 1271.5,2348.9 1271.3,2342.9 1269.5,2334.9 1270.0,2330.9 1272.1,2326.9 1283.6,2310.9 1285.7,2304.9 1285.5,2300.9 1283.4,2292.9 1282.5,2286.9 1278.9,2243.9 1278.0,2237.9 1276.0,2231.9 1267.7,2216.9 1264.2,2208.4 1260.9,2195.9 1256.2,2172.9 1255.9,2165.9 1256.7,2158.9 1260.9,2140.9 1262.1,2132.9 1262.4,2127.9 1261.7,2121.9 1260.3,2115.9 1255.7,2102.9 1249.6,2088.9 1245.2,2081.7 1243.2,2079.4 1241.2,2078.2 1239.2,2077.7 1233.3,2077.9 1230.0,2075.9 1226.8,2070.9 1222.8,2059.9 1221.2,2058.0 1219.3,2056.9 1215.2,2056.4 1200.2,2058.0 1192.2,2057.4 1185.9,2053.9 1177.2,2045.6 1171.2,2043.3 1163.2,2043.1 1151.2,2045.0 1145.2,2044.9 1142.2,2044.2 1139.2,2042.6 1137.2,2040.6 1132.2,2031.4 1128.2,2027.7 1086.2,2015.2 1075.2,2009.8 1070.2,2008.5 1065.2,2008.3 1060.2,2009.4 1053.2,2012.2 1046.2,2016.4 1043.2,2017.2 1038.2,2017.4 1025.2,2016.1 1017.2,2016.9 991.2,2024.7 973.3,2027.6 957.2,2033.2 953.2,2036.1 950.2,2040.9 943.5,2062.9 942.3,2068.9 940.9,2071.9 938.2,2075.2 935.2,2077.6 931.2,2079.6 917.2,2083.1 908.2,2087.2 902.2,2088.6 898.3,2087.9 895.7,2085.9 887.4,2071.9 881.2,2064.0 869.5,2050.9 859.5,2037.9 857.0,2032.9 856.4,2026.9 858.2,2008.9 859.8,2001.9 862.7,1994.9 869.0,1985.9 886.2,1972.3 889.2,1968.9 890.7,1965.9 891.5,1961.9 891.3,1957.9 887.3,1945.9 886.9,1939.9 887.7,1934.9 889.2,1930.9 892.9,1925.9 899.2,1921.8 907.2,1918.8 926.2,1913.8 942.2,1911.2 948.2,1909.2 956.2,1905.3 967.2,1902.7 976.2,1902.1 998.2,1905.1 1008.2,1905.8 1013.2,1905.5 1018.2,1904.1 1022.0,1901.9 1026.2,1898.2 1028.7,1894.9 1030.2,1891.8 1031.2,1887.9 1031.4,1883.9 1029.8,1872.9 1030.0,1870.9ZM692.0,2080.9 697.2,2080.0 701.2,2080.3 706.2,2081.8 711.2,2084.5 715.2,2087.5 722.8,2094.9 737.2,2112.0 741.2,2115.6 748.0,2118.9 762.2,2122.4 770.2,2125.0 782.2,2130.5 792.2,2137.2 798.2,2142.4 803.2,2148.0 808.5,2155.9 810.2,2159.9 811.1,2163.9 811.4,2168.9 810.9,2173.9 799.6,2215.9 792.8,2236.9 791.4,2244.9 792.6,2250.9 794.2,2255.0 796.2,2258.2 799.2,2261.6 803.2,2264.9 812.2,2269.5 822.3,2272.1 825.7,2274.9 828.7,2281.9 830.9,2292.9 834.7,2305.9 836.7,2317.9 839.2,2324.3 846.2,2334.3 853.2,2342.9 882.2,2372.5 885.8,2376.9 888.7,2381.9 890.6,2386.9 891.1,2389.9 890.9,2391.9 889.8,2393.9 885.2,2396.9 867.2,2403.0 864.8,2405.9 864.6,2409.9 870.9,2427.9 873.0,2432.9 875.1,2435.9 879.2,2438.4 892.2,2441.4 897.2,2444.3 900.7,2447.9 919.2,2471.1 921.8,2474.9 923.5,2478.9 924.0,2481.9 923.1,2486.9 920.2,2490.5 912.2,2495.6 902.2,2500.1 899.2,2499.8 896.2,2497.8 894.1,2494.9 890.9,2488.9 883.5,2470.9 878.4,2460.9 873.3,2453.9 868.2,2451.4 857.2,2451.2 839.2,2453.8 830.2,2455.8 806.2,2463.0 798.2,2464.7 795.2,2464.8 792.2,2464.1 790.2,2462.7 788.3,2459.9 785.9,2452.9 783.3,2439.9 775.4,2422.9 771.7,2407.9 768.9,2399.9 753.9,2366.9 751.2,2363.8 744.2,2359.4 742.2,2357.5 739.9,2352.9 739.4,2348.9 740.1,2344.9 742.2,2340.0 751.2,2326.6 757.6,2320.9 768.2,2314.4 772.2,2312.8 780.2,2311.0 784.0,2308.9 786.2,2306.4 788.2,2302.4 789.6,2297.9 789.8,2294.9 788.8,2292.9 787.2,2292.2 779.2,2292.9 774.2,2291.4 766.4,2285.9 764.2,2283.3 763.2,2280.9 763.1,2275.9 767.0,2264.9 767.6,2257.9 763.1,2231.9 762.7,2220.9 763.2,2209.9 761.9,2205.9 759.2,2202.9 756.2,2201.5 751.2,2200.6 747.2,2200.9 743.2,2202.1 740.9,2203.9 736.5,2210.9 730.3,2218.9 722.9,2225.9 716.4,2230.9 713.2,2232.8 710.2,2233.6 707.2,2232.6 705.0,2229.9 704.1,2226.9 703.9,2223.9 704.4,2220.9 706.0,2216.9 713.3,2205.9 722.3,2196.9 723.4,2194.9 723.5,2192.9 722.3,2188.9 719.3,2183.9 714.2,2177.5 707.1,2169.9 702.5,2162.9 698.8,2154.9 693.8,2140.9 685.0,2123.9 681.3,2113.9 680.0,2107.9 679.5,2101.9 679.8,2096.9 680.9,2091.9 682.9,2087.9 685.2,2085.1 688.2,2082.9ZM1077.2,2482.9 1082.2,2482.6 1097.2,2484.1 1107.2,2483.9 1112.2,2484.3 1117.7,2486.9 1119.3,2488.9 1119.5,2490.9 1118.3,2492.9 1116.2,2494.2 1107.2,2497.2 1094.2,2499.4 1083.2,2498.9 1078.2,2497.6 1072.2,2495.0 1068.2,2492.5 1066.4,2490.0 1066.6,2487.9 1068.6,2485.9 1072.2,2484.3ZM939.9,2511.9 941.2,2511.5 943.2,2511.9 945.2,2513.9 945.5,2516.9 944.3,2518.9 943.2,2519.5 940.2,2519.2 938.4,2516.9 938.2,2513.9ZM965.5,2516.9 969.2,2516.3 972.2,2517.1 974.8,2518.9 976.8,2521.9 977.5,2524.9 977.2,2528.9 975.9,2531.9 973.2,2534.1 970.2,2534.7 967.5,2533.9 965.2,2531.9 963.4,2528.9 961.9,2523.9 962.0,2520.9 963.2,2518.5ZM886.6,2525.9 890.2,2525.1 893.2,2525.4 896.2,2526.8 899.8,2529.9 908.4,2542.9 908.8,2545.9 906.7,2548.9 900.2,2552.4 893.2,2553.7 887.5,2551.9 882.4,2547.9 880.3,2544.9 878.5,2540.9 877.8,2537.9 877.9,2534.9 880.2,2530.4ZM1026.2,2584.9 1033.2,2585.2 1040.2,2586.6 1049.2,2590.5 1062.2,2597.5 1070.2,2602.6 1075.4,2606.9 1077.9,2610.9 1077.5,2613.9 1075.9,2615.9 1073.2,2617.5 1066.2,2618.5 1030.2,2614.4 1023.2,2613.0 1010.2,2609.2 1006.2,2607.1 1002.8,2603.9 1000.3,2599.9 999.2,2595.9 999.7,2592.9 1001.4,2590.9 1006.2,2588.7 1020.2,2585.7Z" fill="#ff7841"/>
<path fill-rule="evenodd" d="M1018.2,1963.9 1030.2,1963.4 1035.2,1963.9 1044.2,1965.7 1060.2,1970.5 1069.0,1974.9 1077.2,1981.1 1082.9,1986.9 1084.1,1988.9 1084.2,1990.9 1082.2,1992.9 1078.2,1993.3 1066.2,1991.9 1054.2,1989.4 1043.2,1989.2 1029.2,1992.6 1015.2,1997.8 1010.2,2000.7 996.2,2011.2 994.2,2013.3 991.1,2018.9 988.2,2021.3 983.2,2023.0 975.2,2023.0 968.1,2026.9 956.2,2031.4 953.2,2033.3 950.1,2036.9 947.6,2041.9 944.2,2054.4 939.8,2062.9 940.3,2067.9 939.2,2070.6 936.1,2073.9 930.6,2076.9 926.2,2078.0 922.8,2076.9 921.4,2074.9 921.2,2072.9 923.3,2066.9 919.3,2062.6 917.2,2059.6 915.3,2054.9 913.8,2048.9 912.7,2039.9 913.5,2030.9 916.2,2022.2 921.9,2011.9 926.0,2005.9 941.2,1987.0 946.2,1981.9 952.2,1977.5 956.2,1975.2 964.2,1971.8 987.2,1968.0ZM1147.4,2017.9 1149.2,2017.3 1153.2,2017.9 1160.2,2021.0 1162.7,2022.9 1163.8,2025.0 1163.9,2026.9 1163.2,2028.4 1161.2,2030.3 1158.2,2031.3 1154.2,2031.0 1151.2,2029.8 1148.2,2027.0 1146.6,2023.9 1146.1,2019.9ZM1182.9,2035.9 1186.2,2035.3 1192.2,2035.2 1201.2,2036.5 1208.2,2038.5 1213.2,2040.8 1215.8,2042.9 1216.8,2044.9 1216.5,2047.9 1213.7,2050.9 1209.2,2052.3 1200.2,2051.0 1194.2,2049.3 1187.2,2045.9 1182.4,2041.9 1180.9,2038.9 1181.5,2036.9ZM1232.1,2044.9 1237.2,2045.3 1241.2,2046.9 1246.1,2050.9 1249.0,2054.9 1251.2,2059.9 1251.8,2064.9 1250.6,2069.9 1248.2,2072.8 1246.2,2073.3 1245.1,2072.9 1243.2,2071.4 1241.6,2068.9 1236.5,2057.9 1230.6,2048.9 1230.2,2046.8 1230.6,2045.9ZM700.6,2083.9 703.2,2083.9 706.6,2084.9 711.2,2087.7 716.2,2091.5 724.2,2099.4 737.2,2115.0 744.2,2121.1 747.2,2122.6 764.2,2128.3 771.2,2131.5 786.2,2140.5 794.2,2146.8 802.2,2154.9 805.7,2160.9 806.7,2164.9 806.8,2168.9 806.0,2172.9 804.4,2175.9 803.2,2176.8 801.2,2176.7 793.2,2169.6 790.2,2167.8 786.2,2166.4 780.2,2166.1 767.2,2167.9 760.2,2167.5 750.2,2165.2 744.9,2161.9 729.2,2146.3 723.6,2139.9 708.7,2119.9 702.9,2110.9 698.9,2101.9 696.9,2092.9 697.4,2086.9 698.8,2084.9ZM1288.0,2184.9 1290.2,2184.8 1293.2,2185.6 1296.2,2187.4 1299.2,2190.1 1303.6,2195.9 1306.6,2203.9 1308.7,2214.9 1308.9,2231.9 1313.3,2246.9 1314.8,2255.9 1314.3,2268.9 1313.4,2272.9 1312.2,2274.7 1311.2,2274.7 1310.0,2272.9 1304.5,2254.9 1299.5,2240.9 1297.9,2234.9 1295.7,2220.9 1293.4,2212.9 1291.3,2207.9 1286.7,2200.9 1284.9,2195.9 1284.2,2191.9 1284.3,2188.9 1285.2,2186.7ZM817.9,2351.9 819.2,2351.6 821.2,2352.0 823.5,2354.9 823.8,2356.9 823.3,2358.9 821.3,2360.9 819.2,2361.0 818.2,2360.4 816.4,2357.9 815.9,2355.9 816.2,2353.9ZM1234.8,2400.9 1237.2,2400.2 1238.8,2400.9 1238.5,2402.9 1236.5,2405.9 1226.2,2416.2 1223.2,2417.3 1221.2,2416.8 1220.5,2415.9 1220.4,2413.9 1222.2,2411.0 1228.8,2404.9ZM1223.3,2440.9 1225.8,2440.9 1227.1,2442.9 1226.3,2446.9 1224.0,2450.9 1220.2,2455.2 1216.2,2458.1 1212.2,2459.8 1210.2,2459.3 1209.6,2457.9 1210.3,2455.9 1219.2,2444.6Z" fill="#ff501e"/>
<path fill-rule="evenodd" d="M1007.9,1974.9 1018.2,1974.1 1027.2,1975.3 1032.2,1977.6 1033.3,1978.9 1033.4,1980.9 1032.2,1982.6 1030.2,1983.9 1023.2,1986.3 1017.2,1987.0 1009.2,1986.6 1002.9,1983.9 1000.8,1981.9 1000.1,1979.9 1000.7,1977.9 1001.8,1976.9ZM966.5,1989.9 975.2,1989.4 984.2,1989.9 988.2,1991.2 991.4,1993.9 992.7,1995.9 993.6,1998.9 993.7,2005.9 989.7,2015.9 987.2,2018.7 984.2,2020.1 981.2,2020.5 977.2,2019.8 974.5,2017.9 973.9,2011.9 972.9,2009.9 960.4,1996.9 959.2,1994.9 959.5,1992.9 960.3,1991.9 962.2,1990.9ZM703.7,2091.9 705.2,2091.2 708.2,2091.2 711.2,2092.1 715.2,2094.3 722.2,2100.4 737.0,2117.9 743.2,2123.9 752.2,2128.4 761.2,2130.8 766.7,2132.9 776.2,2137.9 788.6,2145.9 792.6,2149.9 793.6,2151.9 793.5,2152.9 791.2,2153.8 777.2,2151.6 757.2,2151.8 749.2,2149.4 741.5,2144.9 730.9,2135.9 721.2,2126.4 709.2,2112.8 705.1,2105.9 702.8,2099.9 702.1,2094.9 702.8,2092.9Z" fill="#e13200"/>
<path fill-rule="evenodd" d="M709.0,2099.9 711.2,2100.4 713.7,2101.9 720.4,2108.9 724.6,2115.9 724.9,2117.9 724.2,2119.3 722.2,2119.5 720.2,2118.4 713.2,2111.7 708.2,2103.9 707.8,2100.9Z" fill="#b42800"/>
<g fill="none" stroke="#000" stroke-width="3.3" stroke-linejoin="round" stroke-linecap="round"><path d="M711.3 2053.5L710.7 2065.1L714.3 2077.3L715.8 2086.4L721.3 2095.6L727.4 2103.2L732.0 2104.7L730.5 2109.3L736.6 2113.9L742.7 2120.0L747.2 2121.5L751.8 2120.0L756.4 2117.5L761.0 2116.9L770.1 2119.4L779.2 2121.5L788.4 2123.0L794.5 2127.6L800.6 2130.6L808.2 2131.5L812.8 2136.7L818.9 2139.8L826.5 2145.9L831.1 2153.5L837.2 2156.5L840.2 2164.2L844.8 2173.3L850.9 2162.6L858.5 2155.0L870.7 2150.4L882.9 2146.8L895.1 2141.3L904.2 2133.7L908.8 2126.1L907.3 2113.9L910.3 2101.7L913.4 2086.4L915.8 2077.3L918.0 2068.1L918.0 2062.0L922.5 2052.9L928.6 2043.7L934.7 2034.6L942.4 2028.5L948.5 2022.4L950.0 2016.3L946.9 2010.2L953.0 2007.2L957.6 2011.7L960.7 2004.1L965.2 1999.5L969.8 2001.1L971.3 2005.6L980.5 2004.1L982.0 1995.0L983.5 1991.3L988.1 1993.4L991.1 2002.6L995.7 2005.6L1004.9 1999.5L1012.5 1994.4L1020.1 1992.5L1025.0 1990.4L1034.1 1991.9L1049.4 1994.4L1061.6 1998.0L1073.8 2003.5L1086.0 2010.2L1093.6 2013.3L1101.2 2014.8L1110.3 2016.9L1122.5 2018.4L1134.7 2021.8L1139.3 2016.3L1145.4 2014.8L1146.9 2025.4L1149.4 2034.6L1153.0 2039.2L1150.0 2043.1L1156.1 2041.3L1162.2 2036.1L1171.3 2034.6L1180.5 2035.2L1189.6 2039.2L1197.2 2045.3L1203.3 2050.4L1207.9 2051.4L1207.3 2057.5L1211.0 2058.4L1215.5 2052.9L1221.6 2049.8L1232.3 2051.4L1238.4 2057.5L1242.1 2065.1L1243.0 2074.2L1238.4 2077.3L1244.5 2077.3L1241.4 2083.4L1239.0 2092.5L1243.0 2098.6L1244.5 2107.8L1249.1 2116.9L1252.1 2129.1L1256.7 2138.9L1247.5 2144.4L1239.9 2148.9L1233.8 2150.4L1227.7 2155.0L1225.6 2158.1L1230.8 2160.2L1238.4 2165.7L1239.9 2173.3L1247.5 2179.4L1255.2 2182.5L1261.3 2185.5L1268.9 2193.1L1276.5 2200.8L1282.6 2214.5L1285.7 2215.4L1287.8 2227.6L1289.6 2239.8L1289.6 2252.0L1287.8 2264.2L1286.6 2276.4L1285.7 2288.6L1289.6 2297.8L1290.2 2305.4L1285.7 2314.5L1279.6 2322.2L1273.5 2328.3L1268.9 2332.8L1271.9 2338.9L1274.4 2345.0L1274.4 2354.2L1272.5 2360.3L1265.8 2363.3L1258.2 2367.9L1252.1 2374.0L1246.9 2381.6L1243.9 2390.8L1243.0 2396.9L1236.9 2398.4L1235.3 2406.0L1231.7 2410.6L1231.7 2416.7L1223.2 2417.3L1215.5 2419.7L1218.6 2425.8L1222.5 2428.9L1221.6 2435.0L1216.4 2441.1L1211.0 2447.2L1204.9 2451.7L1195.7 2454.8L1189.6 2459.4L1180.5 2463.9L1174.4 2467.9L1169.8 2467.0L1165.2 2471.5L1159.1 2467.0L1153.0 2470.0L1145.4 2467.0L1137.8 2468.5L1128.6 2473.1L1121.0 2474.6L1113.4 2478.3L1107.3 2476.1L1099.7 2474.6L1099.7 2479.2L1089.0 2479.8L1076.8 2477.6L1073.2 2470.0L1070.1 2464.8L1067.7 2471.5L1066.1 2477.0L1063.1 2471.5L1053.9 2474.6L1044.8 2470.9L1035.7 2468.5L1032.6 2463.9L1029.6 2459.4L1031.1 2451.7L1035.7 2445.6L1040.2 2442.6L1041.8 2433.4L1044.8 2428.9L1045.7 2422.8L1048.8 2415.1L1046.9 2407.5L1043.3 2398.4L1038.7 2389.2L1035.7 2382.5L1029.6 2378.6L1028.0 2375.5L1035.7 2373.4L1039.6 2367.9L1040.2 2363.3L1037.2 2355.7L1033.5 2346.5L1028.0 2337.4L1021.9 2329.8L1014.3 2322.2L1006.7 2318.5L999.1 2316.1L993.0 2310.0L986.9 2303.9L979.2 2297.8L977.4 2296.2L969.8 2288.6L963.7 2285.6L960.7 2290.1L960.7 2300.8L957.6 2310.0L953.0 2320.6L948.5 2329.8L943.9 2334.4L937.8 2332.8L928.6 2332.2L930.2 2340.4L933.2 2351.1L936.3 2361.8L939.3 2369.4L931.7 2369.4L933.2 2374.0L936.3 2378.6L936.3 2384.7L931.7 2386.8L927.1 2383.1L925.0 2377.0L925.6 2370.9L919.5 2367.3L910.3 2367.9L903.6 2372.5L899.7 2378.6L898.8 2384.7L889.0 2381.6L881.4 2375.5L870.7 2374.0L861.6 2372.5L857.0 2367.9L855.5 2358.7L856.1 2349.6L855.5 2343.5L846.3 2346.5L837.2 2349.0L828.0 2348.1L821.9 2349.6L818.9 2352.6L816.4 2346.5L820.4 2342.0L821.3 2337.4L815.8 2335.9L812.8 2329.8L818.9 2326.7L825.0 2323.7L827.4 2317.6L825.0 2311.5L818.9 2310.0L811.3 2313.0L805.2 2313.0L806.7 2308.4L812.8 2305.4L815.8 2300.8L814.3 2297.2L806.7 2297.8L805.2 2302.3L809.7 2303.9L815.8 2291.7L811.3 2285.6L808.2 2279.5L809.1 2271.9L806.7 2269.7L802.1 2271.9L797.5 2274.9L791.4 2276.4L785.3 2281.0L782.3 2284.0L780.8 2277.9L783.8 2273.4L785.3 2268.8L791.4 2264.2L788.4 2261.2L782.3 2261.2L777.7 2265.8L773.2 2271.9L771.6 2279.5L768.6 2276.4L770.1 2270.3L768.6 2264.2L773.2 2261.2L776.2 2255.1L777.7 2245.9L779.9 2236.8L781.7 2227.6L782.9 2220.0L781.7 2217.5L783.8 2205.3L788.4 2196.2L782.3 2193.1L779.2 2191.6L783.8 2185.5L788.4 2180.9L796.0 2182.5L797.5 2171.8L796.9 2161.1L791.4 2153.5L782.3 2148.9L773.2 2145.9L764.0 2144.4L754.9 2143.7L756.4 2138.3L753.3 2133.7L742.7 2129.1L736.6 2130.6L733.5 2138.3L727.4 2136.7L724.4 2129.1L728.9 2124.5L724.4 2118.4L719.8 2110.8L715.2 2104.7L710.7 2098.6L706.1 2095.6L704.6 2089.5L709.1 2086.4L707.6 2077.3L708.5 2068.1L709.1 2059.0Z"/><path d="M744.2 2148.9L748.8 2153.5L767.1 2152.9L779.2 2155.0L788.4 2160.2L789.9 2168.7L782.3 2174.8L770.1 2182.5L765.5 2180.9L770.1 2168.7L764.0 2159.6L748.8 2156.5L744.2 2148.9"/><path d="M749.4 2168.7L756.4 2167.2L759.4 2173.3L757.9 2179.4L751.8 2177.9L749.4 2168.7"/><path d="M693.9 2047.4L696.3 2055.9L695.4 2069.7L691.4 2070.6L690.8 2059.0L691.8 2051.4L693.9 2047.4Z" fill="#000"/><path d="M711.6 2045.3L719.8 2044.4L718.9 2051.4L712.2 2052.3L711.6 2045.3"/><path d="M722.8 1976.1L732.9 1973.6L731.1 1979.1L725.9 1982.2L722.8 1976.1Z" fill="#000"/><path d="M951.5 2354.2L956.1 2352.0L959.1 2357.2L956.1 2367.9L952.4 2372.5L949.4 2367.9L950.0 2358.7L951.5 2354.2"/><path d="M1021.9 2391.7L1028.0 2386.8L1032.6 2387.7L1031.7 2394.7L1021.9 2391.7"/><path d="M900.6 2381.6L907.3 2379.5L910.3 2382.5L904.2 2384.7L900.6 2381.6"/></g>
</g><circle cx="994.10" cy="2237.60" r="447.6" fill="none" stroke="#000" stroke-width="2.7"/>

<rect x="60.70" y="1366.40" width="54.28" height="43.80" fill="#00008b" stroke="#000" stroke-width="2.2"/>
<rect x="114.98" y="1366.40" width="54.28" height="43.80" fill="#0019b4" stroke="#000" stroke-width="2.2"/>
<rect x="169.26" y="1366.40" width="54.28" height="43.80" fill="#0032dc" stroke="#000" stroke-width="2.2"/>
<rect x="223.54" y="1366.40" width="54.28" height="43.80" fill="#1e50ff" stroke="#000" stroke-width="2.2"/>
<rect x="277.82" y="1366.40" width="54.28" height="43.80" fill="#4178ff" stroke="#000" stroke-width="2.2"/>
<rect x="332.11" y="1366.40" width="54.28" height="43.80" fill="#82aaff" stroke="#000" stroke-width="2.2"/>
<rect x="386.39" y="1366.40" width="54.28" height="43.80" fill="#b4cdff" stroke="#000" stroke-width="2.2"/>
<rect x="440.67" y="1366.40" width="54.28" height="43.80" fill="#d7ebff" stroke="#000" stroke-width="2.2"/>
<rect x="494.95" y="1366.40" width="54.28" height="43.80" fill="#ffebd7" stroke="#000" stroke-width="2.2"/>
<rect x="549.23" y="1366.40" width="54.28" height="43.80" fill="#ffcdb4" stroke="#000" stroke-width="2.2"/>
<rect x="603.51" y="1366.40" width="54.28" height="43.80" fill="#ffaa82" stroke="#000" stroke-width="2.2"/>
<rect x="657.79" y="1366.40" width="54.28" height="43.80" fill="#ff7841" stroke="#000" stroke-width="2.2"/>
<rect x="712.08" y="1366.40" width="54.28" height="43.80" fill="#ff501e" stroke="#000" stroke-width="2.2"/>
<rect x="766.36" y="1366.40" width="54.28" height="43.80" fill="#e13200" stroke="#000" stroke-width="2.2"/>
<rect x="820.64" y="1366.40" width="54.28" height="43.80" fill="#b42800" stroke="#000" stroke-width="2.2"/>
<rect x="874.92" y="1366.40" width="54.28" height="43.80" fill="#8b0000" stroke="#000" stroke-width="2.2"/>
<text transform="translate(114.98 1459.30) scale(1 1.055)" font-size="33.00" text-anchor="middle" stroke="#000" stroke-width="0.59" xml:space="preserve">0.3</text>
<text transform="translate(223.54 1459.30) scale(1 1.055)" font-size="33.00" text-anchor="middle" stroke="#000" stroke-width="0.59" xml:space="preserve">0.7</text>
<text transform="translate(332.11 1459.30) scale(1 1.055)" font-size="33.00" text-anchor="middle" stroke="#000" stroke-width="0.59" xml:space="preserve">1.5</text>
<text transform="translate(440.67 1459.30) scale(1 1.055)" font-size="33.00" text-anchor="middle" stroke="#000" stroke-width="0.59" xml:space="preserve">2.5</text>
<text transform="translate(549.23 1459.30) scale(1 1.055)" font-size="33.00" text-anchor="middle" stroke="#000" stroke-width="0.59" xml:space="preserve">3.5</text>
<text transform="translate(657.79 1459.30) scale(1 1.055)" font-size="33.00" text-anchor="middle" stroke="#000" stroke-width="0.59" xml:space="preserve">4.5</text>
<text transform="translate(766.36 1459.30) scale(1 1.055)" font-size="33.00" text-anchor="middle" stroke="#000" stroke-width="0.59" xml:space="preserve">6</text>
<text transform="translate(874.92 1459.30) scale(1 1.055)" font-size="33.00" text-anchor="middle" stroke="#000" stroke-width="0.59" xml:space="preserve">8</text>
<text transform="translate(493.50 1334.80) scale(1 1.055)" font-size="35.50" text-anchor="middle" stroke="#000" stroke-width="0.64" xml:space="preserve">MEAN=   2.86  Min=   0.10  Max=   9.04</text>
<rect x="1058.85" y="1366.40" width="54.28" height="43.80" fill="#00008b" stroke="#000" stroke-width="2.2"/>
<rect x="1113.13" y="1366.40" width="54.28" height="43.80" fill="#0019b4" stroke="#000" stroke-width="2.2"/>
<rect x="1167.41" y="1366.40" width="54.28" height="43.80" fill="#0032dc" stroke="#000" stroke-width="2.2"/>
<rect x="1221.69" y="1366.40" width="54.28" height="43.80" fill="#1e50ff" stroke="#000" stroke-width="2.2"/>
<rect x="1275.97" y="1366.40" width="54.28" height="43.80" fill="#4178ff" stroke="#000" stroke-width="2.2"/>
<rect x="1330.26" y="1366.40" width="54.28" height="43.80" fill="#82aaff" stroke="#000" stroke-width="2.2"/>
<rect x="1384.54" y="1366.40" width="54.28" height="43.80" fill="#b4cdff" stroke="#000" stroke-width="2.2"/>
<rect x="1438.82" y="1366.40" width="54.28" height="43.80" fill="#d7ebff" stroke="#000" stroke-width="2.2"/>
<rect x="1493.10" y="1366.40" width="54.28" height="43.80" fill="#ffebd7" stroke="#000" stroke-width="2.2"/>
<rect x="1547.38" y="1366.40" width="54.28" height="43.80" fill="#ffcdb4" stroke="#000" stroke-width="2.2"/>
<rect x="1601.66" y="1366.40" width="54.28" height="43.80" fill="#ffaa82" stroke="#000" stroke-width="2.2"/>
<rect x="1655.94" y="1366.40" width="54.28" height="43.80" fill="#ff7841" stroke="#000" stroke-width="2.2"/>
<rect x="1710.22" y="1366.40" width="54.28" height="43.80" fill="#ff501e" stroke="#000" stroke-width="2.2"/>
<rect x="1764.51" y="1366.40" width="54.28" height="43.80" fill="#e13200" stroke="#000" stroke-width="2.2"/>
<rect x="1818.79" y="1366.40" width="54.28" height="43.80" fill="#b42800" stroke="#000" stroke-width="2.2"/>
<rect x="1873.07" y="1366.40" width="54.28" height="43.80" fill="#8b0000" stroke="#000" stroke-width="2.2"/>
<text transform="translate(1113.13 1459.30) scale(1 1.055)" font-size="33.00" text-anchor="middle" stroke="#000" stroke-width="0.59" xml:space="preserve">0.3</text>
<text transform="translate(1221.69 1459.30) scale(1 1.055)" font-size="33.00" text-anchor="middle" stroke="#000" stroke-width="0.59" xml:space="preserve">0.7</text>
<text transform="translate(1330.26 1459.30) scale(1 1.055)" font-size="33.00" text-anchor="middle" stroke="#000" stroke-width="0.59" xml:space="preserve">1.5</text>
<text transform="translate(1438.82 1459.30) scale(1 1.055)" font-size="33.00" text-anchor="middle" stroke="#000" stroke-width="0.59" xml:space="preserve">2.5</text>
<text transform="translate(1547.38 1459.30) scale(1 1.055)" font-size="33.00" text-anchor="middle" stroke="#000" stroke-width="0.59" xml:space="preserve">3.5</text>
<text transform="translate(1655.94 1459.30) scale(1 1.055)" font-size="33.00" text-anchor="middle" stroke="#000" stroke-width="0.59" xml:space="preserve">4.5</text>
<text transform="translate(1764.51 1459.30) scale(1 1.055)" font-size="33.00" text-anchor="middle" stroke="#000" stroke-width="0.59" xml:space="preserve">6</text>
<text transform="translate(1873.07 1459.30) scale(1 1.055)" font-size="33.00" text-anchor="middle" stroke="#000" stroke-width="0.59" xml:space="preserve">8</text>
<text transform="translate(1491.65 1334.80) scale(1 1.055)" font-size="35.50" text-anchor="middle" stroke="#000" stroke-width="0.64" xml:space="preserve">MEAN=   2.17  Min=   0.05  Max=   6.04</text>
<rect x="1628.10" y="2631.41" width="74.00" height="44.99" fill="#00008b" stroke="#000" stroke-width="2.2"/>
<rect x="1628.10" y="2586.43" width="74.00" height="44.99" fill="#0019b4" stroke="#000" stroke-width="2.2"/>
<rect x="1628.10" y="2541.44" width="74.00" height="44.99" fill="#0032dc" stroke="#000" stroke-width="2.2"/>
<rect x="1628.10" y="2496.45" width="74.00" height="44.99" fill="#1e50ff" stroke="#000" stroke-width="2.2"/>
<rect x="1628.10" y="2451.46" width="74.00" height="44.99" fill="#4178ff" stroke="#000" stroke-width="2.2"/>
<rect x="1628.10" y="2406.47" width="74.00" height="44.99" fill="#82aaff" stroke="#000" stroke-width="2.2"/>
<rect x="1628.10" y="2361.49" width="74.00" height="44.99" fill="#b4cdff" stroke="#000" stroke-width="2.2"/>
<rect x="1628.10" y="2316.50" width="74.00" height="44.99" fill="#d7ebff" stroke="#000" stroke-width="2.2"/>
<rect x="1628.10" y="2271.51" width="74.00" height="44.99" fill="#ffebd7" stroke="#000" stroke-width="2.2"/>
<rect x="1628.10" y="2226.53" width="74.00" height="44.99" fill="#ffcdb4" stroke="#000" stroke-width="2.2"/>
<rect x="1628.10" y="2181.54" width="74.00" height="44.99" fill="#ffaa82" stroke="#000" stroke-width="2.2"/>
<rect x="1628.10" y="2136.55" width="74.00" height="44.99" fill="#ff7841" stroke="#000" stroke-width="2.2"/>
<rect x="1628.10" y="2091.56" width="74.00" height="44.99" fill="#ff501e" stroke="#000" stroke-width="2.2"/>
<rect x="1628.10" y="2046.57" width="74.00" height="44.99" fill="#e13200" stroke="#000" stroke-width="2.2"/>
<rect x="1628.10" y="2001.59" width="74.00" height="44.99" fill="#b42800" stroke="#000" stroke-width="2.2"/>
<rect x="1628.10" y="1956.60" width="74.00" height="44.99" fill="#8b0000" stroke="#000" stroke-width="2.2"/>
<text transform="translate(1746.00 2643.61) scale(1 1.055)" font-size="32.60" text-anchor="middle" stroke="#000" stroke-width="0.59" xml:space="preserve">-4</text>
<text transform="translate(1746.00 2598.62) scale(1 1.055)" font-size="32.60" text-anchor="middle" stroke="#000" stroke-width="0.59" xml:space="preserve">-3</text>
<text transform="translate(1746.00 2553.64) scale(1 1.055)" font-size="32.60" text-anchor="middle" stroke="#000" stroke-width="0.59" xml:space="preserve">-2</text>
<text transform="translate(1746.00 2508.65) scale(1 1.055)" font-size="32.60" text-anchor="middle" stroke="#000" stroke-width="0.59" xml:space="preserve">-1.5</text>
<text transform="translate(1746.00 2463.66) scale(1 1.055)" font-size="32.60" text-anchor="middle" stroke="#000" stroke-width="0.59" xml:space="preserve">-1</text>
<text transform="translate(1746.00 2418.67) scale(1 1.055)" font-size="32.60" text-anchor="middle" stroke="#000" stroke-width="0.59" xml:space="preserve">-0.5</text>
<text transform="translate(1746.00 2373.69) scale(1 1.055)" font-size="32.60" text-anchor="middle" stroke="#000" stroke-width="0.59" xml:space="preserve">-0.3</text>
<text transform="translate(1746.00 2328.70) scale(1 1.055)" font-size="32.60" text-anchor="middle" stroke="#000" stroke-width="0.59" xml:space="preserve">0</text>
<text transform="translate(1746.00 2283.71) scale(1 1.055)" font-size="32.60" text-anchor="middle" stroke="#000" stroke-width="0.59" xml:space="preserve">0.3</text>
<text transform="translate(1746.00 2238.72) scale(1 1.055)" font-size="32.60" text-anchor="middle" stroke="#000" stroke-width="0.59" xml:space="preserve">0.5</text>
<text transform="translate(1746.00 2193.74) scale(1 1.055)" font-size="32.60" text-anchor="middle" stroke="#000" stroke-width="0.59" xml:space="preserve">1</text>
<text transform="translate(1746.00 2148.75) scale(1 1.055)" font-size="32.60" text-anchor="middle" stroke="#000" stroke-width="0.59" xml:space="preserve">1.5</text>
<text transform="translate(1746.00 2103.76) scale(1 1.055)" font-size="32.60" text-anchor="middle" stroke="#000" stroke-width="0.59" xml:space="preserve">2</text>
<text transform="translate(1746.00 2058.77) scale(1 1.055)" font-size="32.60" text-anchor="middle" stroke="#000" stroke-width="0.59" xml:space="preserve">3</text>
<text transform="translate(1746.00 2013.79) scale(1 1.055)" font-size="32.60" text-anchor="middle" stroke="#000" stroke-width="0.59" xml:space="preserve">4</text>
<text transform="translate(1700.60 1876.90) scale(1 1.055)" font-size="35.50" text-anchor="middle" stroke="#000" stroke-width="0.64" xml:space="preserve">MIN =  -0.16 MAX =   3.19</text>
</svg></body></html>
